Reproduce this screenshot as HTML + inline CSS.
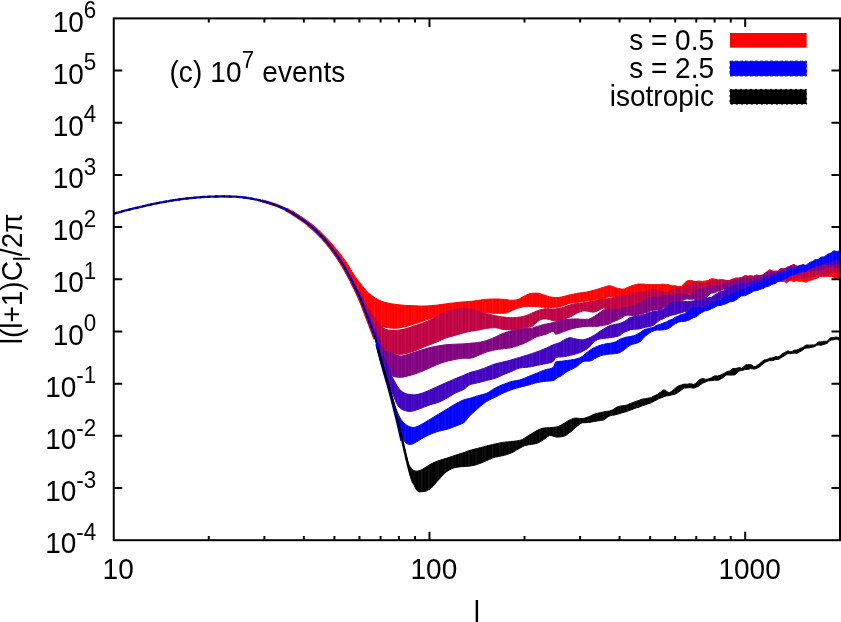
<!DOCTYPE html>
<html><head><meta charset="utf-8"><title>chart</title>
<style>html,body{margin:0;padding:0;background:#fff;}svg{display:block;will-change:transform;}text{font-family:"Liberation Sans",sans-serif;fill:#000;}</style></head>
<body>
<svg width="841" height="622" viewBox="0 0 841 622">
<rect width="841" height="622" fill="#fff"/>
<defs><clipPath id="cp"><rect x="113.75" y="18.4" width="727.25" height="521.8"/></clipPath><clipPath id="bc"><use href="#b0"/><use href="#b1"/><use href="#b2"/><use href="#b3"/><use href="#b4"/><use href="#b5"/></clipPath><pattern id="st1" width="3.37" height="10" patternUnits="userSpaceOnUse"><rect x="0" y="0" width="1.1" height="10" fill="#fff" fill-opacity="0.055"/></pattern><pattern id="st2" width="7.9" height="10" patternUnits="userSpaceOnUse"><rect x="2" y="0" width="1.4" height="10" fill="#fff" fill-opacity="0.05"/></pattern></defs>
<g clip-path="url(#cp)">
<polyline points="262.0,201.0 263.5,201.3 265.0,201.7 266.5,202.2 268.0,202.6 269.5,203.0 271.0,203.5 272.5,204.0 274.0,204.5 275.5,205.0 277.0,205.6 278.5,206.2 280.0,206.8 281.5,207.4 283.0,208.1 284.5,208.8 286.0,209.5 287.5,210.3 289.0,211.1" fill="none" stroke="#ff0000" stroke-width="3.0"/>
<polyline points="286.0,209.5 287.5,210.3 289.0,211.1 290.5,212.0 292.0,212.9 293.5,213.9 295.0,214.8 296.5,215.8 298.0,216.8 299.5,217.8 301.0,218.8 302.5,219.9 304.0,220.9 305.5,222.0 307.0,223.1 308.5,224.3 310.0,225.5 311.5,226.7" fill="none" stroke="#ff0000" stroke-width="3.8"/>
<polyline points="308.0,223.9 309.5,225.1 311.0,226.3 312.5,227.5 314.0,228.8 315.5,230.2 317.0,231.6 318.5,233.1 320.0,234.6 321.5,236.2 323.0,237.8 324.5,239.4 326.0,241.1 327.5,242.9 329.0,244.7 330.5,246.6 332.0,248.6 333.5,250.6 335.0,252.7 336.5,254.8 338.0,256.9 339.5,259.2 341.0,261.6 342.5,264.1 344.0,266.6 345.5,269.2 347.0,271.8 348.5,274.6 350.0,277.4 351.5,280.3 353.0,283.4 354.5,286.5 356.0,289.5 357.5,292.6 359.0,295.8 360.5,299.1 362.0,302.7 363.5,306.6 365.0,310.6 366.5,314.6 368.0,318.5 369.5,322.4 371.0,326.4 372.5,330.3 374.0,334.3 375.5,338.7" fill="none" stroke="#ff0000" stroke-width="4.6"/>
<polygon id="b0" points="292.0,210.9 293.0,211.6 294.0,212.2 295.0,212.8 296.0,213.4 297.0,214.1 298.0,214.7 299.0,215.3 300.0,216.0 301.0,216.6 302.0,217.3 303.0,218.0 304.0,218.7 305.0,219.3 306.0,220.0 307.0,220.7 308.0,221.5 309.0,222.2 310.0,223.0 311.0,223.7 312.0,224.5 313.0,225.3 314.0,226.2 315.0,227.0 316.0,227.9 317.0,228.7 318.0,229.6 319.0,230.6 320.0,231.5 321.0,232.4 322.0,233.4 323.0,234.4 324.0,235.4 325.0,236.4 326.0,237.4 327.0,238.5 328.0,239.5 329.0,240.6 330.0,241.7 331.0,242.9 332.0,244.0 333.0,245.1 334.0,246.3 335.0,247.5 336.0,248.7 337.0,249.9 338.0,251.1 339.0,252.3 340.0,253.6 341.0,255.0 342.0,256.3 343.0,257.7 344.0,259.1 345.0,260.5 346.0,261.9 347.0,263.4 348.0,264.9 349.0,266.5 350.0,268.2 351.0,269.9 352.0,271.6 353.0,273.2 354.0,274.8 355.0,276.3 356.0,277.7 357.0,279.1 358.0,280.4 359.0,281.6 360.0,282.9 361.0,284.2 362.0,285.5 363.0,286.8 364.0,288.0 365.0,289.2 366.0,290.4 367.0,291.4 368.0,292.4 369.0,293.4 370.0,294.3 371.0,295.1 372.0,295.8 373.0,296.5 374.0,297.1 375.0,297.8 376.0,298.4 377.0,299.0 378.0,299.6 379.0,300.2 380.0,300.6 381.0,301.0 382.0,301.4 383.0,301.8 384.0,302.1 385.0,302.4 386.0,302.6 387.0,302.9 388.0,303.1 389.0,303.3 390.0,303.5 391.0,303.7 392.0,303.9 393.0,304.0 394.0,304.2 395.0,304.3 396.0,304.4 397.0,304.6 398.0,304.7 399.0,304.8 400.0,304.9 401.0,305.0 402.0,305.1 403.0,305.2 404.0,305.3 405.0,305.4 406.0,305.4 407.0,305.5 408.0,305.5 409.0,305.6 410.0,305.6 411.0,305.6 412.0,305.7 413.0,305.7 414.0,305.7 415.0,305.8 416.0,305.8 417.0,305.9 418.0,305.9 419.0,306.0 420.0,306.0 421.0,306.0 422.0,306.1 423.0,306.0 424.0,306.0 425.0,306.0 426.0,306.0 427.0,305.9 428.0,305.9 429.0,305.8 430.0,305.7 431.0,305.7 432.0,305.6 433.0,305.5 434.0,305.4 435.0,305.3 436.0,305.2 437.0,305.1 438.0,305.0 439.0,304.8 440.0,304.7 441.0,304.6 442.0,304.4 443.0,304.3 444.0,304.1 445.0,304.0 446.0,303.9 447.0,303.7 448.0,303.6 449.0,303.5 450.0,303.3 451.0,303.2 452.0,303.1 453.0,303.0 454.0,302.9 455.0,302.8 456.0,302.6 457.0,302.5 458.0,302.4 459.0,302.3 460.0,302.2 461.0,302.1 462.0,302.0 463.0,301.9 464.0,301.9 465.0,301.8 466.0,301.7 467.0,301.7 468.0,301.6 469.0,301.5 470.0,301.5 471.5,301.3 473.0,301.1 474.5,300.9 476.0,300.6 477.5,300.4 479.0,300.2 480.5,300.0 482.0,299.8 483.5,299.6 485.0,299.4 486.5,299.3 488.0,299.2 489.5,299.1 491.0,299.1 492.5,299.0 494.0,299.0 495.5,299.0 497.0,299.0 498.5,299.0 500.0,299.1 501.5,299.2 503.0,299.3 504.5,299.4 506.0,299.6 507.5,299.8 509.0,300.1 510.5,300.2 512.0,300.3 513.5,300.2 515.0,300.1 516.5,299.8 518.0,299.5 519.5,298.8 521.0,297.9 522.5,297.0 524.0,296.2 525.5,295.5 527.0,294.7 528.5,294.0 530.0,293.6 531.5,293.5 533.0,293.3 534.5,293.2 536.0,293.1 537.5,293.1 539.0,293.4 540.5,293.8 542.0,294.3 543.5,294.8 545.0,295.2 546.5,295.8 548.0,296.4 549.5,296.8 551.0,297.1 552.5,297.3 554.0,297.5 555.5,297.6 557.0,297.6 558.5,297.5 560.0,297.3 561.5,296.9 563.0,296.6 564.5,296.3 566.0,295.9 567.5,295.5 569.0,295.1 570.5,294.7 572.0,294.4 573.5,294.1 575.0,293.8 576.5,293.5 578.0,293.2 579.5,293.0 581.0,292.8 582.5,292.6 584.0,292.4 585.5,292.2 587.0,292.0 588.5,291.6 590.0,291.2 591.5,290.8 593.0,290.4 594.5,290.0 596.0,289.6 597.5,289.2 599.0,288.8 600.5,288.2 602.0,287.7 603.5,287.3 605.0,286.9 606.5,286.3 608.0,285.9 609.5,285.8 611.0,285.9 612.5,286.3 614.0,287.0 615.5,287.8 617.0,288.2 618.5,288.5 620.0,288.8 621.5,289.1 623.0,289.2 624.5,288.9 626.0,288.3 627.5,287.6 629.0,286.9 630.5,286.3 632.0,285.7 633.5,285.3 635.0,284.8 636.5,284.4 638.0,284.1 639.5,284.0 641.0,284.1 642.5,284.1 644.0,284.1 645.5,284.4 647.0,284.6 648.5,284.6 650.0,284.5 651.5,284.6 653.0,284.7 654.5,284.6 656.0,284.5 657.5,284.6 659.0,284.7 660.5,284.5 662.0,284.2 663.5,284.2 665.0,284.4 666.5,284.4 668.0,284.5 669.5,285.0 671.0,285.6 672.5,285.8 674.0,285.7 675.5,285.8 677.0,286.3 678.5,286.5 680.0,286.5 681.5,286.2 683.0,284.9 684.5,283.1 686.0,281.7 687.5,280.8 689.0,280.5 690.5,280.4 692.0,280.6 693.5,281.2 695.0,281.7 696.5,281.5 698.0,281.1 699.5,281.0 701.0,281.4 702.5,281.6 704.0,281.2 705.5,280.9 707.0,280.8 708.5,280.3 710.0,279.3 711.5,278.7 713.0,278.8 714.5,279.1 716.0,279.3 717.5,279.8 719.0,280.4 720.5,280.5 722.0,280.0 723.5,279.8 725.0,280.3 726.5,280.8 728.0,280.7 729.5,280.4 731.0,280.2 732.5,279.8 734.0,278.8 735.5,278.0 737.0,277.9 738.5,278.1 740.0,277.9 741.5,277.7 743.0,277.9 744.5,277.9 746.0,277.1 747.5,276.5 749.0,276.9 750.5,277.4 752.0,277.3 753.5,276.9 755.0,276.9 756.5,276.8 758.0,276.3 759.5,275.8 761.0,276.2 762.5,277.1 764.0,277.4 765.5,277.3 767.0,277.4 768.5,277.7 770.0,277.3 771.5,276.7 773.0,277.1 774.5,278.0 776.0,278.3 777.5,278.0 779.0,278.1 780.5,278.5 782.0,278.3 783.5,277.9 785.0,278.4 786.5,279.5 788.0,279.8 789.5,279.2 791.0,278.7 792.5,278.5 794.0,277.6 795.5,276.0 797.0,275.4 798.5,275.9 800.0,276.2 801.5,275.6 803.0,275.2 804.5,275.4 806.0,275.2 807.5,274.3 809.0,274.0 810.5,274.6 812.0,274.7 813.5,273.8 815.0,273.2 816.5,273.6 818.0,273.4 819.5,272.4 821.0,271.8 822.5,272.4 824.0,272.9 825.5,272.4 827.0,271.7 828.5,271.7 830.0,271.6 831.5,270.8 833.0,270.4 834.5,271.2 836.0,271.8 837.5,271.1 839.0,270.0 840.5,269.9 842.0,270.0 842.0,276.7 840.5,276.9 839.0,277.2 837.5,278.0 836.0,278.6 834.5,278.0 833.0,276.8 831.5,276.3 830.0,276.5 828.5,276.4 827.0,276.2 825.5,276.5 824.0,276.8 822.5,276.6 821.0,276.2 819.5,276.7 818.0,277.7 816.5,278.4 815.0,278.6 813.5,279.2 812.0,279.9 810.5,280.2 809.0,280.6 807.5,281.4 806.0,282.1 804.5,282.0 803.0,281.4 801.5,281.1 800.0,281.3 798.5,281.2 797.0,280.8 795.5,280.9 794.0,281.4 792.5,281.3 791.0,280.6 789.5,280.4 788.0,281.8 786.5,282.8 785.0,282.0 783.5,281.4 782.0,281.4 780.5,281.5 779.0,281.4 777.5,282.0 776.0,283.1 774.5,283.9 773.0,283.8 771.5,283.8 770.0,284.3 768.5,284.6 767.0,284.3 765.5,283.8 764.0,283.7 762.5,283.6 761.0,283.1 759.5,282.9 758.0,283.3 756.5,283.8 755.0,283.8 753.5,283.7 752.0,283.9 750.5,284.1 749.0,283.8 747.5,283.5 746.0,283.7 744.5,283.9 743.0,283.6 741.5,283.3 740.0,284.1 738.5,285.5 737.0,286.6 735.5,287.2 734.0,287.8 732.5,288.5 731.0,288.7 729.5,288.6 728.0,288.7 726.5,288.7 725.0,288.5 723.5,288.1 722.0,288.1 720.5,288.3 719.0,288.3 717.5,288.0 716.0,287.9 714.5,288.1 713.0,288.1 711.5,288.0 710.0,288.2 708.5,288.7 707.0,289.2 705.5,289.3 704.0,289.5 702.5,289.7 701.0,289.5 699.5,289.3 698.0,289.3 696.5,289.6 695.0,289.7 693.5,289.6 692.0,289.7 690.5,290.2 689.0,290.6 687.5,290.9 686.0,291.3 684.5,291.9 683.0,292.4 681.5,292.7 680.0,293.0 678.5,293.5 677.0,293.7 675.5,293.6 674.0,293.6 672.5,293.9 671.0,294.1 669.5,294.1 668.0,294.0 666.5,293.9 665.0,293.8 663.5,293.4 662.0,293.1 660.5,293.1 659.0,293.1 657.5,292.9 656.0,292.8 654.5,292.8 653.0,292.9 651.5,293.0 650.0,293.0 648.5,293.1 647.0,293.1 645.5,293.0 644.0,292.8 642.5,292.7 641.0,292.9 639.5,293.0 638.0,293.2 636.5,293.5 635.0,293.9 633.5,294.2 632.0,294.7 630.5,295.2 629.0,295.9 627.5,296.3 626.0,296.6 624.5,296.8 623.0,297.1 621.5,297.2 620.0,297.1 618.5,297.1 617.0,297.1 615.5,296.9 614.0,296.7 612.5,296.5 611.0,296.4 609.5,296.5 608.0,296.9 606.5,297.8 605.0,298.6 603.5,299.1 602.0,299.3 600.5,299.5 599.0,299.6 597.5,299.8 596.0,299.8 594.5,300.0 593.0,300.2 591.5,300.4 590.0,300.6 588.5,300.8 587.0,301.0 585.5,301.2 584.0,301.4 582.5,301.6 581.0,301.8 579.5,302.0 578.0,302.2 576.5,302.4 575.0,302.6 573.5,302.8 572.0,303.0 570.5,303.3 569.0,303.6 567.5,304.1 566.0,304.7 564.5,305.2 563.0,305.7 561.5,306.1 560.0,306.6 558.5,306.9 557.0,307.2 555.5,307.3 554.0,307.4 552.5,307.4 551.0,307.5 549.5,307.5 548.0,307.5 546.5,307.4 545.0,307.4 543.5,307.3 542.0,307.2 540.5,307.0 539.0,306.8 537.5,306.7 536.0,306.6 534.5,306.5 533.0,306.5 531.5,306.4 530.0,306.4 528.5,306.3 527.0,306.3 525.5,306.4 524.0,306.6 522.5,306.9 521.0,307.3 519.5,307.7 518.0,308.1 516.5,308.5 515.0,309.1 513.5,309.7 512.0,310.4 510.5,311.2 509.0,312.0 507.5,312.5 506.0,312.9 504.5,313.3 503.0,313.3 501.5,313.3 500.0,313.3 498.5,313.3 497.0,313.3 495.5,313.3 494.0,313.3 492.5,313.3 491.0,313.1 489.5,313.0 488.0,312.8 486.5,312.7 485.0,312.4 483.5,312.1 482.0,311.8 480.5,311.4 479.0,311.1 477.5,310.8 476.0,310.5 474.5,310.2 473.0,309.9 471.5,309.7 470.0,309.7 469.0,309.8 468.0,310.3 467.0,310.9 466.0,311.5 465.0,312.0 464.0,312.4 463.0,312.5 462.0,312.6 461.0,312.7 460.0,312.8 459.0,312.8 458.0,312.9 457.0,313.0 456.0,313.0 455.0,313.1 454.0,313.2 453.0,313.3 452.0,313.4 451.0,313.5 450.0,313.6 449.0,313.7 448.0,313.8 447.0,313.9 446.0,314.1 445.0,314.2 444.0,314.4 443.0,314.6 442.0,314.8 441.0,315.0 440.0,315.3 439.0,315.5 438.0,315.8 437.0,316.1 436.0,316.4 435.0,316.7 434.0,317.1 433.0,317.5 432.0,317.8 431.0,318.2 430.0,318.5 429.0,318.9 428.0,319.3 427.0,319.6 426.0,320.0 425.0,320.4 424.0,320.7 423.0,321.1 422.0,321.4 421.0,321.8 420.0,322.1 419.0,322.4 418.0,322.7 417.0,323.1 416.0,323.4 415.0,323.7 414.0,324.0 413.0,324.3 412.0,324.6 411.0,324.9 410.0,325.3 409.0,325.6 408.0,325.9 407.0,326.2 406.0,326.4 405.0,326.7 404.0,326.9 403.0,327.1 402.0,327.4 401.0,327.6 400.0,327.7 399.0,327.9 398.0,328.0 397.0,328.1 396.0,328.2 395.0,328.2 394.0,328.2 393.0,328.2 392.0,328.1 391.0,328.1 390.0,328.0 389.0,327.9 388.0,327.7 387.0,327.6 386.0,327.4 385.0,327.2 384.0,326.9 383.0,326.7 382.0,326.5 381.0,326.3 380.0,326.2 379.0,325.9 378.0,325.4 377.0,324.6 376.0,323.8 375.0,323.3 374.0,322.7 373.0,322.1 372.0,320.7 371.0,319.0 370.0,317.1 369.0,315.1 368.0,313.1 367.0,311.1 366.0,309.0 365.0,306.8 364.0,304.5 363.0,302.2 362.0,299.9 361.0,297.7 360.0,295.6 359.0,293.7 358.0,291.7 357.0,289.8 356.0,287.9 355.0,286.0 354.0,284.0 353.0,282.0 352.0,280.1 351.0,278.2 350.0,276.3 349.0,274.5 348.0,272.7 347.0,270.9 346.0,269.2 345.0,267.4 344.0,265.8 343.0,264.1 342.0,262.5 341.0,260.9 340.0,259.3 339.0,257.7 338.0,256.3 337.0,254.8 336.0,253.4 335.0,252.0 334.0,250.6 333.0,249.3 332.0,248.0 331.0,246.7 330.0,245.4 329.0,244.2 328.0,242.9 327.0,241.7 326.0,240.6 325.0,239.4 324.0,238.3 323.0,237.2 322.0,236.1 321.0,235.1 320.0,234.1 319.0,233.0 318.0,232.0 317.0,231.1 316.0,230.1 315.0,229.2 314.0,228.3 313.0,227.4 312.0,226.6 311.0,225.7 310.0,224.9 309.0,224.1 308.0,223.4 307.0,222.6 306.0,221.8 305.0,221.1 304.0,220.4 303.0,219.7 302.0,219.0 301.0,218.3 300.0,217.6 299.0,217.0 298.0,216.3 297.0,215.6 296.0,215.0 295.0,214.3 294.0,213.7 293.0,213.0 292.0,212.4" fill="#ff0000" stroke="#ff0000" stroke-width="1.0" stroke-linejoin="round"/>
<polygon id="b1" points="292.0,213.2 293.0,213.8 294.0,214.4 295.0,215.0 296.0,215.7 297.0,216.3 298.0,217.0 299.0,217.7 300.0,218.3 301.0,219.0 302.0,219.7 303.0,220.4 304.0,221.1 305.0,221.8 306.0,222.5 307.0,223.2 308.0,224.0 309.0,224.8 310.0,225.6 311.0,226.4 312.0,227.2 313.0,228.0 314.0,228.9 315.0,229.8 316.0,230.7 317.0,231.6 318.0,232.6 319.0,233.6 320.0,234.6 321.0,235.6 322.0,236.6 323.0,237.7 324.0,238.8 325.0,239.8 326.0,241.0 327.0,242.1 328.0,243.3 329.0,244.5 330.0,245.7 331.0,246.9 332.0,248.2 333.0,249.5 334.0,250.8 335.0,252.1 336.0,253.5 337.0,254.8 338.0,256.2 339.0,257.7 340.0,259.1 341.0,260.7 342.0,262.2 343.0,263.8 344.0,265.3 345.0,266.9 346.0,268.6 347.0,270.2 348.0,271.9 349.0,273.6 350.0,275.3 351.0,277.0 352.0,278.8 353.0,280.6 354.0,282.4 355.0,284.2 356.0,285.9 357.0,287.6 358.0,289.4 359.0,291.1 360.0,292.8 361.0,294.7 362.0,296.6 363.0,298.5 364.0,300.5 365.0,302.4 366.0,304.3 367.0,306.0 368.0,307.7 369.0,309.3 370.0,310.9 371.0,312.5 372.0,313.9 373.0,315.3 374.0,316.6 375.0,318.0 376.0,319.4 377.0,320.9 378.0,322.4 379.0,323.7 380.0,324.8 381.0,325.9 382.0,326.8 383.0,327.6 384.0,328.3 385.0,329.0 386.0,329.4 387.0,329.7 388.0,329.9 389.0,330.0 390.0,330.2 391.0,330.3 392.0,330.4 393.0,330.4 394.0,330.4 395.0,330.4 396.0,330.4 397.0,330.3 398.0,330.2 399.0,330.1 400.0,329.9 401.0,329.7 402.0,329.5 403.0,329.3 404.0,329.1 405.0,328.9 406.0,328.6 407.0,328.3 408.0,328.0 409.0,327.7 410.0,327.4 411.0,327.0 412.0,326.7 413.0,326.3 414.0,326.0 415.0,325.7 416.0,325.3 417.0,325.0 418.0,324.7 419.0,324.3 420.0,324.0 421.0,323.6 422.0,323.3 423.0,322.9 424.0,322.5 425.0,322.2 426.0,321.8 427.0,321.4 428.0,321.0 429.0,320.5 430.0,320.1 431.0,319.6 432.0,319.1 433.0,318.5 434.0,317.9 435.0,317.3 436.0,316.7 437.0,316.2 438.0,315.6 439.0,315.1 440.0,314.6 441.0,314.1 442.0,313.6 443.0,313.2 444.0,312.7 445.0,312.3 446.0,311.9 447.0,311.6 448.0,311.3 449.0,311.0 450.0,310.7 451.0,310.4 452.0,310.1 453.0,309.9 454.0,309.7 455.0,309.5 456.0,309.3 457.0,309.1 458.0,308.9 459.0,308.7 460.0,308.6 461.0,308.4 462.0,308.3 463.0,308.2 464.0,308.2 465.0,308.3 466.0,308.4 467.0,308.5 468.0,308.7 469.0,308.8 470.0,309.0 471.5,309.3 473.0,309.6 474.5,310.0 476.0,310.4 477.5,310.8 479.0,311.2 480.5,311.7 482.0,312.2 483.5,312.7 485.0,313.2 486.5,313.6 488.0,314.0 489.5,314.4 491.0,314.8 492.5,315.1 494.0,315.5 495.5,315.8 497.0,316.0 498.5,316.3 500.0,316.6 501.5,316.8 503.0,317.0 504.5,317.1 506.0,317.3 507.5,317.5 509.0,317.6 510.5,317.7 512.0,317.7 513.5,317.7 515.0,317.6 516.5,317.4 518.0,317.3 519.5,317.1 521.0,316.9 522.5,316.6 524.0,316.2 525.5,315.8 527.0,315.3 528.5,314.7 530.0,314.0 531.5,313.3 533.0,312.6 534.5,311.9 536.0,311.3 537.5,310.7 539.0,310.2 540.5,309.8 542.0,309.4 543.5,309.1 545.0,308.8 546.5,308.7 548.0,308.7 549.5,308.8 551.0,308.9 552.5,309.0 554.0,309.0 555.5,308.9 557.0,308.7 558.5,308.5 560.0,308.2 561.5,307.9 563.0,307.4 564.5,306.9 566.0,306.3 567.5,305.8 569.0,305.3 570.5,304.8 572.0,304.4 573.5,304.0 575.0,303.8 576.5,303.6 578.0,303.4 579.5,303.2 581.0,303.0 582.5,302.9 584.0,302.7 585.5,302.5 587.0,302.3 588.5,302.0 590.0,301.7 591.5,301.4 593.0,301.1 594.5,300.9 596.0,300.6 597.5,300.3 599.0,300.0 600.5,299.8 602.0,299.5 603.5,299.2 605.0,299.0 606.5,298.9 608.0,298.7 609.5,298.3 611.0,298.0 612.5,297.7 614.0,297.4 615.5,297.0 617.0,296.7 618.5,296.7 620.0,296.6 621.5,296.4 623.0,296.1 624.5,296.0 626.0,295.6 627.5,294.9 629.0,294.2 630.5,293.9 632.0,293.5 633.5,293.1 635.0,292.8 636.5,292.7 638.0,292.6 639.5,292.4 641.0,292.2 642.5,292.2 644.0,292.0 645.5,291.5 647.0,290.9 648.5,290.4 650.0,290.0 651.5,289.6 653.0,289.3 654.5,289.5 656.0,289.9 657.5,290.1 659.0,290.2 660.5,290.7 662.0,291.5 663.5,292.2 665.0,292.8 666.5,292.7 668.0,292.3 669.5,291.4 671.0,290.3 672.5,289.5 674.0,289.2 675.5,288.9 677.0,288.5 678.5,288.4 680.0,288.3 681.5,287.8 683.0,286.8 684.5,286.1 686.0,285.6 687.5,285.0 689.0,284.2 690.5,283.6 692.0,283.3 693.5,282.5 695.0,281.7 696.5,281.7 698.0,282.5 699.5,283.3 701.0,283.6 702.5,283.8 704.0,283.9 705.5,283.4 707.0,282.3 708.5,281.4 710.0,281.2 711.5,281.1 713.0,280.6 714.5,280.3 716.0,280.4 717.5,280.4 719.0,279.9 720.5,279.6 722.0,279.9 723.5,280.3 725.0,280.3 726.5,280.3 728.0,280.6 729.5,280.5 731.0,279.8 732.5,279.1 734.0,279.1 735.5,279.4 737.0,279.0 738.5,278.3 740.0,277.9 741.5,277.6 743.0,276.7 744.5,275.7 746.0,275.6 747.5,276.0 749.0,275.9 750.5,275.6 752.0,275.9 753.5,276.1 755.0,275.6 756.5,275.0 758.0,275.2 759.5,275.8 761.0,275.5 762.5,274.7 764.0,274.0 765.5,273.1 767.0,271.7 768.5,270.2 770.0,269.8 771.5,270.5 773.0,271.0 774.5,271.0 776.0,271.1 777.5,271.0 779.0,270.0 780.5,268.8 782.0,268.4 783.5,268.8 785.0,268.6 786.5,267.5 788.0,266.8 789.5,266.7 791.0,266.0 792.5,264.8 794.0,264.4 795.5,265.4 797.0,266.2 798.5,266.4 800.0,266.8 801.5,267.6 803.0,267.9 804.5,267.5 806.0,267.7 807.5,268.9 809.0,269.9 810.5,269.7 812.0,269.3 813.5,269.3 815.0,268.9 816.5,267.7 818.0,267.0 819.5,267.6 821.0,268.2 822.5,267.6 824.0,266.7 825.5,266.5 827.0,266.0 828.5,264.7 830.0,263.8 831.5,264.3 833.0,265.0 834.5,264.5 836.0,263.7 837.5,263.6 839.0,263.5 840.5,262.7 842.0,262.3 842.0,270.8 840.5,270.7 839.0,271.2 837.5,271.9 836.0,272.6 834.5,272.0 833.0,272.1 831.5,272.3 830.0,272.4 828.5,273.4 827.0,274.5 825.5,274.9 824.0,274.7 822.5,274.9 821.0,275.1 819.5,274.8 818.0,274.4 816.5,274.8 815.0,275.7 813.5,276.2 812.0,276.2 810.5,276.7 809.0,277.3 807.5,277.5 806.0,277.3 804.5,277.7 803.0,278.3 801.5,278.4 800.0,277.9 798.5,277.7 797.0,277.8 795.5,277.7 794.0,278.4 792.5,279.3 791.0,279.5 789.5,280.0 788.0,280.6 786.5,280.3 785.0,279.9 783.5,279.9 782.0,279.5 780.5,279.4 779.0,279.7 777.5,279.8 776.0,279.4 774.5,279.1 773.0,279.4 771.5,279.6 770.0,279.6 768.5,279.9 767.0,280.8 765.5,281.4 764.0,281.4 762.5,281.2 761.0,281.4 759.5,281.4 758.0,281.0 756.5,280.7 755.0,281.0 753.5,281.3 752.0,281.2 750.5,281.1 749.0,281.5 747.5,282.0 746.0,282.5 744.5,283.1 743.0,283.7 741.5,284.2 740.0,284.0 738.5,283.6 737.0,283.6 735.5,283.7 734.0,283.6 732.5,283.8 731.0,284.4 729.5,285.1 728.0,285.4 726.5,285.6 725.0,286.0 723.5,286.6 722.0,286.8 720.5,286.9 719.0,287.3 717.5,287.8 716.0,287.9 714.5,287.7 713.0,287.9 711.5,288.3 710.0,288.6 708.5,288.9 707.0,289.4 705.5,290.1 704.0,290.5 702.5,290.6 701.0,290.9 699.5,291.4 698.0,291.7 696.5,292.0 695.0,292.5 693.5,293.1 692.0,293.5 690.5,293.5 689.0,293.8 687.5,294.3 686.0,294.8 684.5,295.0 683.0,295.2 681.5,295.5 680.0,295.6 678.5,295.4 677.0,295.2 675.5,295.3 674.0,295.4 672.5,295.5 671.0,295.7 669.5,296.2 668.0,296.5 666.5,296.6 665.0,296.8 663.5,297.2 662.0,297.5 660.5,297.6 659.0,297.7 657.5,297.8 656.0,297.8 654.5,297.6 653.0,297.4 651.5,297.5 650.0,298.0 648.5,298.7 647.0,299.7 645.5,300.8 644.0,301.9 642.5,302.7 641.0,303.4 639.5,304.2 638.0,305.0 636.5,305.7 635.0,306.1 633.5,306.6 632.0,307.0 630.5,307.2 629.0,307.4 627.5,307.8 626.0,308.2 624.5,308.5 623.0,308.8 621.5,309.2 620.0,309.5 618.5,309.6 617.0,309.6 615.5,309.6 614.0,309.7 612.5,309.8 611.0,309.7 609.5,309.7 608.0,309.4 606.5,308.8 605.0,308.2 603.5,308.0 602.0,308.6 600.5,309.4 599.0,310.2 597.5,310.9 596.0,311.4 594.5,311.9 593.0,312.1 591.5,312.0 590.0,311.7 588.5,311.4 587.0,311.1 585.5,310.9 584.0,310.8 582.5,311.1 581.0,311.6 579.5,312.1 578.0,312.7 576.5,313.4 575.0,314.2 573.5,315.1 572.0,316.0 570.5,316.7 569.0,317.3 567.5,317.9 566.0,318.4 564.5,318.9 563.0,319.3 561.5,319.8 560.0,320.1 558.5,320.5 557.0,320.7 555.5,320.8 554.0,320.7 552.5,320.5 551.0,320.0 549.5,319.5 548.0,319.2 546.5,319.0 545.0,318.9 543.5,318.9 542.0,319.2 540.5,319.7 539.0,320.5 537.5,321.7 536.0,323.0 534.5,324.3 533.0,325.7 531.5,326.8 530.0,327.2 528.5,327.2 527.0,327.4 525.5,327.7 524.0,328.0 522.5,328.4 521.0,328.8 519.5,329.0 518.0,329.2 516.5,329.4 515.0,329.6 513.5,329.7 512.0,329.7 510.5,329.7 509.0,329.7 507.5,329.6 506.0,329.6 504.5,329.5 503.0,329.4 501.5,329.1 500.0,328.7 498.5,328.3 497.0,327.9 495.5,327.7 494.0,327.7 492.5,327.8 491.0,327.9 489.5,328.1 488.0,328.2 486.5,328.4 485.0,328.7 483.5,329.0 482.0,329.3 480.5,329.6 479.0,329.9 477.5,330.2 476.0,330.5 474.5,330.7 473.0,330.9 471.5,331.1 470.0,331.4 469.0,331.6 468.0,331.8 467.0,332.0 466.0,332.3 465.0,332.5 464.0,332.8 463.0,333.0 462.0,333.3 461.0,333.6 460.0,333.9 459.0,334.2 458.0,334.5 457.0,334.8 456.0,335.1 455.0,335.4 454.0,335.7 453.0,336.0 452.0,336.2 451.0,336.5 450.0,336.8 449.0,337.0 448.0,337.3 447.0,337.6 446.0,338.0 445.0,338.3 444.0,338.7 443.0,339.2 442.0,339.6 441.0,340.1 440.0,340.6 439.0,341.0 438.0,341.5 437.0,341.9 436.0,342.3 435.0,342.7 434.0,343.1 433.0,343.5 432.0,343.9 431.0,344.3 430.0,344.7 429.0,345.1 428.0,345.5 427.0,345.8 426.0,346.2 425.0,346.6 424.0,347.0 423.0,347.4 422.0,347.9 421.0,348.3 420.0,348.7 419.0,349.1 418.0,349.5 417.0,349.9 416.0,350.3 415.0,350.7 414.0,351.1 413.0,351.4 412.0,351.8 411.0,352.1 410.0,352.4 409.0,352.8 408.0,353.1 407.0,353.3 406.0,353.6 405.0,353.8 404.0,353.9 403.0,354.1 402.0,354.2 401.0,354.3 400.0,354.3 399.0,354.3 398.0,354.3 397.0,354.2 396.0,354.1 395.0,353.9 394.0,353.6 393.0,353.3 392.0,352.9 391.0,352.5 390.0,352.0 389.0,351.5 388.0,350.9 387.0,350.5 386.0,350.0 385.0,349.6 384.0,349.0 383.0,348.2 382.0,347.2 381.0,345.5 380.0,343.6 379.0,341.4 378.0,338.9 377.0,336.1 376.0,333.4 375.0,331.1 374.0,328.9 373.0,326.7 372.0,324.6 371.0,322.5 370.0,320.2 369.0,317.9 368.0,315.6 367.0,313.3 366.0,310.9 365.0,308.5 364.0,306.0 363.0,303.5 362.0,301.1 361.0,298.7 360.0,296.6 359.0,294.5 358.0,292.4 357.0,290.4 356.0,288.5 355.0,286.5 354.0,284.4 353.0,282.4 352.0,280.4 351.0,278.5 350.0,276.6 349.0,274.7 348.0,272.9 347.0,271.1 346.0,269.4 345.0,267.6 344.0,265.9 343.0,264.3 342.0,262.6 341.0,261.0 340.0,259.4 339.0,257.8 338.0,256.3 337.0,254.9 336.0,253.5 335.0,252.1 334.0,250.8 333.0,249.5 332.0,248.2 331.0,246.9 330.0,245.7 329.0,244.5 328.0,243.3 327.0,242.1 326.0,241.0 325.0,239.8 324.0,238.8 323.0,237.7 322.0,236.6 321.0,235.6 320.0,234.6 319.0,233.6 318.0,232.6 317.0,231.6 316.0,230.7 315.0,229.8 314.0,228.9 313.0,228.0 312.0,227.2 311.0,226.4 310.0,225.6 309.0,224.8 308.0,224.0 307.0,223.2 306.0,222.5 305.0,221.8 304.0,221.1 303.0,220.4 302.0,219.7 301.0,219.0 300.0,218.3 299.0,217.7 298.0,217.0 297.0,216.3 296.0,215.7 295.0,215.0 294.0,214.4 293.0,213.8 292.0,213.2" fill="#bf0040" stroke="#bf0040" stroke-width="1.0" stroke-linejoin="round"/>
<polygon id="b2" points="292.0,213.0 293.0,213.6 294.0,214.3 295.0,214.9 296.0,215.6 297.0,216.2 298.0,216.9 299.0,217.6 300.0,218.2 301.0,218.9 302.0,219.6 303.0,220.3 304.0,221.0 305.0,221.7 306.0,222.4 307.0,223.2 308.0,223.9 309.0,224.7 310.0,225.5 311.0,226.3 312.0,227.1 313.0,228.0 314.0,228.9 315.0,229.8 316.0,230.7 317.0,231.6 318.0,232.6 319.0,233.6 320.0,234.6 321.0,235.6 322.0,236.7 323.0,237.7 324.0,238.8 325.0,239.9 326.0,241.1 327.0,242.2 328.0,243.4 329.0,244.6 330.0,245.8 331.0,247.1 332.0,248.4 333.0,249.7 334.0,251.0 335.0,252.4 336.0,253.8 337.0,255.2 338.0,256.6 339.0,258.1 340.0,259.6 341.0,261.1 342.0,262.7 343.0,264.4 344.0,266.0 345.0,267.7 346.0,269.3 347.0,271.1 348.0,272.8 349.0,274.6 350.0,276.4 351.0,278.2 352.0,280.1 353.0,282.0 354.0,284.0 355.0,285.9 356.0,287.9 357.0,289.8 358.0,291.7 359.0,293.6 360.0,295.6 361.0,297.7 362.0,300.0 363.0,302.3 364.0,304.6 365.0,307.0 366.0,309.3 367.0,311.5 368.0,313.7 369.0,315.9 370.0,318.1 371.0,320.2 372.0,322.3 373.0,324.3 374.0,326.4 375.0,328.5 376.0,330.8 377.0,333.4 378.0,336.0 379.0,338.5 380.0,340.7 381.0,342.8 382.0,344.8 383.0,346.7 384.0,348.4 385.0,350.0 386.0,350.7 387.0,351.2 388.0,351.7 389.0,352.0 390.0,352.4 391.0,352.8 392.0,353.3 393.0,353.8 394.0,354.2 395.0,354.6 396.0,355.0 397.0,355.3 398.0,355.6 399.0,355.8 400.0,356.0 401.0,356.1 402.0,356.0 403.0,355.8 404.0,355.5 405.0,355.3 406.0,355.0 407.0,354.7 408.0,354.4 409.0,354.1 410.0,353.8 411.0,353.4 412.0,353.1 413.0,352.7 414.0,352.4 415.0,352.1 416.0,351.8 417.0,351.4 418.0,351.1 419.0,350.8 420.0,350.5 421.0,350.2 422.0,349.9 423.0,349.6 424.0,349.3 425.0,349.0 426.0,348.7 427.0,348.4 428.0,348.1 429.0,347.8 430.0,347.6 431.0,347.4 432.0,347.1 433.0,346.9 434.0,346.7 435.0,346.5 436.0,346.3 437.0,346.1 438.0,346.0 439.0,345.8 440.0,345.6 441.0,345.5 442.0,345.3 443.0,345.2 444.0,345.0 445.0,344.9 446.0,344.8 447.0,344.7 448.0,344.6 449.0,344.5 450.0,344.5 451.0,344.4 452.0,344.3 453.0,344.3 454.0,344.2 455.0,344.2 456.0,344.2 457.0,344.1 458.0,344.1 459.0,344.0 460.0,344.0 461.0,344.0 462.0,343.9 463.0,343.9 464.0,343.8 465.0,343.8 466.0,343.7 467.0,343.6 468.0,343.5 469.0,343.4 470.0,343.3 471.5,343.1 473.0,343.0 474.5,342.9 476.0,342.7 477.5,342.6 479.0,342.3 480.5,342.1 482.0,341.7 483.5,341.4 485.0,340.9 486.5,340.5 488.0,340.0 489.5,339.5 491.0,338.9 492.5,338.2 494.0,337.6 495.5,336.9 497.0,336.2 498.5,335.5 500.0,334.7 501.5,334.0 503.0,333.4 504.5,332.9 506.0,332.3 507.5,331.9 509.0,331.4 510.5,331.0 512.0,330.7 513.5,330.4 515.0,330.2 516.5,329.9 518.0,329.7 519.5,329.5 521.0,329.3 522.5,329.0 524.0,328.7 525.5,328.5 527.0,328.3 528.5,328.2 530.0,328.6 531.5,328.4 533.0,327.9 534.5,327.3 536.0,326.8 537.5,326.4 539.0,325.9 540.5,325.5 542.0,325.0 543.5,324.6 545.0,324.2 546.5,324.0 548.0,323.7 549.5,323.4 551.0,323.1 552.5,322.7 554.0,322.3 555.5,321.9 557.0,321.4 558.5,320.8 560.0,320.3 561.5,319.9 563.0,319.7 564.5,319.5 566.0,319.4 567.5,319.3 569.0,319.2 570.5,319.1 572.0,319.0 573.5,319.0 575.0,318.9 576.5,318.9 578.0,318.9 579.5,319.1 581.0,319.2 582.5,319.3 584.0,319.3 585.5,319.3 587.0,319.3 588.5,319.3 590.0,318.8 591.5,318.0 593.0,317.1 594.5,316.2 596.0,315.2 597.5,314.2 599.0,313.2 600.5,312.1 602.0,310.8 603.5,309.9 605.0,309.7 606.5,309.4 608.0,309.2 609.5,309.2 611.0,309.3 612.5,309.5 614.0,309.6 615.5,309.6 617.0,309.5 618.5,309.2 620.0,308.6 621.5,308.1 623.0,307.8 624.5,307.5 626.0,307.3 627.5,307.3 629.0,307.4 630.5,307.0 632.0,306.5 633.5,306.0 635.0,305.5 636.5,304.9 638.0,304.2 639.5,303.6 641.0,302.8 642.5,301.8 644.0,300.5 645.5,299.5 647.0,298.6 648.5,297.7 650.0,297.1 651.5,297.1 653.0,297.2 654.5,297.1 656.0,296.9 657.5,297.0 659.0,297.0 660.5,296.5 662.0,295.8 663.5,295.8 665.0,296.0 666.5,295.9 668.0,295.7 669.5,295.8 671.0,296.0 672.5,295.7 674.0,295.0 675.5,294.6 677.0,294.6 678.5,294.2 680.0,293.8 681.5,293.7 683.0,294.0 684.5,294.2 686.0,294.3 687.5,294.6 689.0,294.9 690.5,294.3 692.0,293.1 693.5,292.1 695.0,291.3 696.5,290.1 698.0,289.1 699.5,288.8 701.0,288.9 702.5,288.8 704.0,288.3 705.5,287.7 707.0,287.5 708.5,287.1 710.0,286.5 711.5,286.2 713.0,286.3 714.5,286.3 716.0,286.1 717.5,286.0 719.0,286.1 720.5,285.8 722.0,284.8 723.5,284.1 725.0,283.7 726.5,283.3 728.0,282.6 729.5,282.0 731.0,281.7 732.5,281.5 734.0,280.9 735.5,280.4 737.0,280.3 738.5,280.3 740.0,279.6 741.5,278.7 743.0,278.3 744.5,278.4 746.0,278.3 747.5,278.3 749.0,278.8 750.5,279.3 752.0,278.8 753.5,277.9 755.0,277.6 756.5,277.6 758.0,277.1 759.5,276.4 761.0,276.0 762.5,275.8 764.0,274.6 765.5,272.9 767.0,272.1 768.5,272.3 770.0,272.4 771.5,272.3 773.0,272.7 774.5,273.3 776.0,273.0 777.5,271.7 779.0,270.8 780.5,270.7 782.0,270.2 783.5,269.2 785.0,268.6 786.5,268.4 788.0,267.7 789.5,266.4 791.0,265.7 792.5,266.1 794.0,266.5 795.5,266.2 797.0,266.2 798.5,266.6 800.0,266.3 801.5,265.2 803.0,264.5 804.5,265.1 806.0,265.7 807.5,265.5 809.0,265.3 810.5,265.6 812.0,265.6 813.5,264.5 815.0,263.8 816.5,264.2 818.0,264.9 819.5,264.5 821.0,263.9 822.5,263.9 824.0,263.5 825.5,262.2 827.0,261.1 828.5,261.5 830.0,262.3 831.5,262.2 833.0,261.8 834.5,261.9 836.0,261.9 837.5,260.8 839.0,259.7 840.5,260.0 842.0,261.0 842.0,266.7 840.5,266.4 839.0,266.3 837.5,267.0 836.0,267.5 834.5,267.2 833.0,266.7 831.5,266.8 830.0,267.0 828.5,266.9 827.0,266.9 825.5,267.9 824.0,269.0 822.5,269.5 821.0,269.5 819.5,269.9 818.0,270.4 816.5,270.2 815.0,270.0 813.5,270.4 812.0,271.0 810.5,271.1 809.0,270.8 807.5,271.1 806.0,271.8 804.5,272.1 803.0,272.4 801.5,273.2 800.0,274.2 798.5,274.6 797.0,274.3 795.5,274.3 794.0,274.5 792.5,274.3 791.0,274.0 789.5,274.3 788.0,275.0 786.5,275.3 785.0,275.2 783.5,275.5 782.0,276.1 780.5,276.6 779.0,276.6 777.5,277.0 776.0,277.7 774.5,277.9 773.0,277.5 771.5,277.3 770.0,277.6 768.5,277.8 767.0,277.8 765.5,278.2 764.0,279.1 762.5,279.7 761.0,280.0 759.5,280.7 758.0,280.6 756.5,280.7 755.0,281.4 753.5,281.8 752.0,281.9 750.5,282.5 749.0,283.7 747.5,284.4 746.0,284.2 744.5,284.0 743.0,284.8 741.5,285.3 740.0,286.2 738.5,286.8 737.0,286.9 735.5,286.9 734.0,287.2 732.5,287.7 731.0,287.8 729.5,288.0 728.0,288.5 726.5,289.0 725.0,289.1 723.5,289.2 722.0,289.7 720.5,290.4 719.0,290.9 717.5,291.3 716.0,292.0 714.5,292.7 713.0,293.0 711.5,293.1 710.0,293.7 708.5,295.5 707.0,297.2 705.5,298.3 704.0,299.2 702.5,300.0 701.0,300.4 699.5,300.4 698.0,300.6 696.5,300.9 695.0,299.2 693.5,299.1 692.0,299.2 690.5,299.3 689.0,299.2 687.5,298.9 686.0,299.0 684.5,299.5 683.0,300.0 681.5,300.4 680.0,300.9 678.5,301.6 677.0,302.1 675.5,302.4 674.0,302.8 672.5,303.5 671.0,304.1 669.5,304.7 668.0,305.4 666.5,306.2 665.0,306.9 663.5,307.6 662.0,308.4 660.5,309.4 659.0,310.1 657.5,310.1 656.0,310.0 654.5,310.0 653.0,310.3 651.5,310.6 650.0,311.1 648.5,311.8 647.0,312.3 645.5,312.7 644.0,313.1 642.5,313.6 641.0,314.0 639.5,314.3 638.0,314.6 636.5,315.0 635.0,315.4 633.5,315.6 632.0,315.4 630.5,315.3 629.0,315.2 627.5,315.2 626.0,315.4 624.5,315.9 623.0,317.0 621.5,318.1 620.0,318.8 618.5,319.6 617.0,320.3 615.5,320.9 614.0,321.5 612.5,322.2 611.0,323.1 609.5,323.8 608.0,324.3 606.5,324.7 605.0,325.0 603.5,325.3 602.0,325.6 600.5,325.9 599.0,326.1 597.5,326.3 596.0,326.3 594.5,326.3 593.0,326.4 591.5,326.3 590.0,326.3 588.5,326.3 587.0,326.4 585.5,326.5 584.0,326.6 582.5,326.8 581.0,327.0 579.5,327.2 578.0,327.4 576.5,327.7 575.0,328.0 573.5,328.4 572.0,328.7 570.5,329.2 569.0,329.7 567.5,330.2 566.0,330.8 564.5,331.3 563.0,331.8 561.5,332.4 560.0,333.0 558.5,333.5 557.0,334.0 555.5,334.2 554.0,331.9 552.5,331.5 551.0,331.9 549.5,332.6 548.0,333.3 546.5,334.0 545.0,334.5 543.5,334.9 542.0,335.3 540.5,335.7 539.0,336.1 537.5,336.5 536.0,337.1 534.5,337.8 533.0,338.7 531.5,339.6 530.0,340.4 528.5,341.2 527.0,341.9 525.5,342.6 524.0,343.3 522.5,343.9 521.0,344.5 519.5,345.1 518.0,345.7 516.5,346.2 515.0,346.7 513.5,347.1 512.0,347.5 510.5,347.8 509.0,348.0 507.5,348.2 506.0,348.4 504.5,348.6 503.0,348.8 501.5,349.0 500.0,349.1 498.5,349.3 497.0,349.6 495.5,349.8 494.0,350.1 492.5,350.4 491.0,350.8 489.5,351.2 488.0,351.6 486.5,352.1 485.0,352.6 483.5,353.3 482.0,353.9 480.5,354.5 479.0,355.1 477.5,355.7 476.0,356.4 474.5,357.1 473.0,357.6 471.5,358.1 470.0,358.2 469.0,358.2 468.0,358.2 467.0,358.2 466.0,358.2 465.0,358.2 464.0,358.2 463.0,358.2 462.0,358.3 461.0,358.4 460.0,358.6 459.0,358.7 458.0,358.9 457.0,359.1 456.0,359.3 455.0,359.5 454.0,359.7 453.0,359.9 452.0,360.1 451.0,360.3 450.0,360.5 449.0,360.7 448.0,361.0 447.0,361.3 446.0,361.5 445.0,361.8 444.0,362.1 443.0,362.4 442.0,362.7 441.0,363.1 440.0,363.4 439.0,363.8 438.0,364.2 437.0,364.6 436.0,365.0 435.0,365.5 434.0,365.9 433.0,366.4 432.0,366.8 431.0,367.3 430.0,367.7 429.0,368.2 428.0,368.6 427.0,369.1 426.0,369.5 425.0,370.0 424.0,370.4 423.0,370.9 422.0,371.3 421.0,371.7 420.0,372.0 419.0,372.4 418.0,372.8 417.0,373.1 416.0,373.5 415.0,373.8 414.0,374.2 413.0,374.5 412.0,374.8 411.0,375.1 410.0,375.4 409.0,375.7 408.0,375.9 407.0,376.2 406.0,376.4 405.0,376.7 404.0,376.9 403.0,377.0 402.0,377.2 401.0,377.2 400.0,377.3 399.0,377.3 398.0,377.2 397.0,377.1 396.0,377.0 395.0,376.8 394.0,376.5 393.0,376.1 392.0,375.5 391.0,374.8 390.0,373.8 389.0,372.7 388.0,371.2 387.0,369.3 386.0,367.3 385.0,365.1 384.0,362.7 383.0,360.2 382.0,357.5 381.0,354.7 380.0,351.7 379.0,348.5 378.0,345.0 377.0,341.4 376.0,338.0 375.0,335.1 374.0,332.4 373.0,329.9 372.0,327.5 371.0,325.0 370.0,322.5 369.0,319.9 368.0,317.4 367.0,314.9 366.0,312.3 365.0,309.7 364.0,307.1 363.0,304.5 362.0,301.9 361.0,299.5 360.0,297.2 359.0,295.1 358.0,293.0 357.0,290.9 356.0,288.9 355.0,286.9 354.0,284.8 353.0,282.8 352.0,280.7 351.0,278.7 350.0,276.8 349.0,274.9 348.0,273.1 347.0,271.3 346.0,269.5 345.0,267.8 344.0,266.1 343.0,264.4 342.0,262.7 341.0,261.1 340.0,259.6 339.0,258.1 338.0,256.6 337.0,255.2 336.0,253.8 335.0,252.4 334.0,251.0 333.0,249.7 332.0,248.4 331.0,247.1 330.0,245.8 329.0,244.6 328.0,243.4 327.0,242.2 326.0,241.1 325.0,239.9 324.0,238.8 323.0,237.7 322.0,236.7 321.0,235.6 320.0,234.6 319.0,233.6 318.0,232.6 317.0,231.6 316.0,230.7 315.0,229.8 314.0,228.9 313.0,228.0 312.0,227.1 311.0,226.3 310.0,225.5 309.0,224.7 308.0,223.9 307.0,223.2 306.0,222.4 305.0,221.7 304.0,221.0 303.0,220.3 302.0,219.6 301.0,218.9 300.0,218.2 299.0,217.6 298.0,216.9 297.0,216.2 296.0,215.6 295.0,214.9 294.0,214.3 293.0,213.6 292.0,213.0" fill="#800080" stroke="#800080" stroke-width="1.0" stroke-linejoin="round"/>
<polygon id="b3" points="292.0,213.2 293.0,213.9 294.0,214.5 295.0,215.1 296.0,215.8 297.0,216.4 298.0,217.1 299.0,217.8 300.0,218.5 301.0,219.1 302.0,219.8 303.0,220.5 304.0,221.2 305.0,221.9 306.0,222.7 307.0,223.4 308.0,224.2 309.0,224.9 310.0,225.7 311.0,226.5 312.0,227.4 313.0,228.2 314.0,229.1 315.0,230.0 316.0,230.9 317.0,231.9 318.0,232.9 319.0,233.9 320.0,234.9 321.0,235.9 322.0,237.0 323.0,238.0 324.0,239.1 325.0,240.2 326.0,241.4 327.0,242.5 328.0,243.7 329.0,244.9 330.0,246.2 331.0,247.5 332.0,248.8 333.0,250.1 334.0,251.4 335.0,252.8 336.0,254.2 337.0,255.6 338.0,257.0 339.0,258.5 340.0,260.1 341.0,261.7 342.0,263.3 343.0,264.9 344.0,266.6 345.0,268.3 346.0,270.0 347.0,271.7 348.0,273.5 349.0,275.3 350.0,277.2 351.0,279.1 352.0,281.0 353.0,283.0 354.0,285.0 355.0,287.0 356.0,289.0 357.0,291.0 358.0,293.0 359.0,295.0 360.0,297.1 361.0,299.3 362.0,301.6 363.0,304.1 364.0,306.6 365.0,309.1 366.0,311.5 367.0,314.0 368.0,316.3 369.0,318.7 370.0,321.1 371.0,323.5 372.0,325.8 373.0,328.1 374.0,330.4 375.0,332.9 376.0,335.5 377.0,338.6 378.0,341.9 379.0,344.9 380.0,347.7 381.0,350.4 382.0,352.9 383.0,355.3 384.0,357.6 385.0,359.7 386.0,361.8 387.0,363.7 388.0,365.6 389.0,368.6 390.0,371.3 391.0,373.9 392.0,376.3 393.0,378.3 394.0,380.2 395.0,382.1 396.0,383.9 397.0,385.6 398.0,387.1 399.0,388.5 400.0,389.8 401.0,390.8 402.0,391.6 403.0,392.3 404.0,392.8 405.0,393.3 406.0,393.7 407.0,394.0 408.0,394.2 409.0,394.4 410.0,394.5 411.0,394.7 412.0,394.7 413.0,394.8 414.0,394.9 415.0,394.8 416.0,394.7 417.0,394.5 418.0,394.3 419.0,394.0 420.0,393.8 421.0,393.5 422.0,393.2 423.0,392.9 424.0,392.5 425.0,392.1 426.0,391.7 427.0,391.3 428.0,390.9 429.0,390.4 430.0,390.0 431.0,389.5 432.0,389.1 433.0,388.6 434.0,388.2 435.0,387.7 436.0,387.2 437.0,386.8 438.0,386.3 439.0,385.8 440.0,385.4 441.0,385.0 442.0,384.5 443.0,384.1 444.0,383.6 445.0,383.2 446.0,382.8 447.0,382.3 448.0,381.9 449.0,381.4 450.0,381.0 451.0,380.6 452.0,380.1 453.0,379.7 454.0,379.2 455.0,378.8 456.0,378.4 457.0,378.0 458.0,377.6 459.0,377.2 460.0,376.8 461.0,376.4 462.0,376.0 463.0,375.6 464.0,375.2 465.0,374.8 466.0,374.3 467.0,373.8 468.0,373.4 469.0,373.0 470.0,372.6 471.5,372.1 473.0,371.7 474.5,371.3 476.0,370.9 477.5,370.5 479.0,370.1 480.5,369.6 482.0,369.0 483.5,368.5 485.0,367.9 486.5,367.3 488.0,366.7 489.5,366.1 491.0,365.5 492.5,364.8 494.0,364.3 495.5,363.8 497.0,363.4 498.5,363.0 500.0,362.7 501.5,362.4 503.0,362.0 504.5,361.6 506.0,361.3 507.5,360.9 509.0,360.5 510.5,360.1 512.0,359.7 513.5,359.2 515.0,358.8 516.5,358.3 518.0,357.9 519.5,357.4 521.0,357.0 522.5,356.5 524.0,356.1 525.5,355.6 527.0,355.2 528.5,354.7 530.0,354.2 531.5,353.7 533.0,353.2 534.5,352.7 536.0,352.2 537.5,351.6 539.0,351.1 540.5,350.5 542.0,349.9 543.5,349.3 545.0,348.6 546.5,348.0 548.0,347.3 549.5,346.5 551.0,345.8 552.5,345.1 554.0,344.5 555.5,344.0 557.0,343.6 558.5,343.1 560.0,342.5 561.5,341.6 563.0,340.6 564.5,339.6 566.0,339.0 567.5,338.3 569.0,337.8 570.5,337.7 572.0,338.0 573.5,338.4 575.0,338.8 576.5,339.1 578.0,339.4 579.5,339.6 581.0,339.8 582.5,339.8 584.0,339.7 585.5,339.2 587.0,338.7 588.5,338.2 590.0,337.5 591.5,336.7 593.0,335.9 594.5,335.0 596.0,334.1 597.5,333.1 599.0,331.9 600.5,330.9 602.0,330.1 603.5,329.1 605.0,328.3 606.5,327.4 608.0,326.6 609.5,325.8 611.0,325.3 612.5,325.0 614.0,324.7 615.5,324.4 617.0,324.1 618.5,323.7 620.0,323.4 621.5,322.8 623.0,322.1 624.5,321.4 626.0,320.5 627.5,319.2 629.0,318.2 630.5,317.5 632.0,317.1 633.5,316.5 635.0,316.0 636.5,315.7 638.0,315.6 639.5,315.4 641.0,315.0 642.5,314.7 644.0,314.5 645.5,314.0 647.0,313.3 648.5,312.8 650.0,312.5 651.5,312.0 653.0,311.3 654.5,311.0 656.0,311.3 657.5,311.2 659.0,310.5 660.5,310.0 662.0,309.5 663.5,308.8 665.0,307.7 666.5,306.6 668.0,305.6 669.5,304.4 671.0,303.2 672.5,302.4 674.0,302.1 675.5,302.0 677.0,301.8 678.5,301.6 680.0,301.7 681.5,301.6 683.0,301.2 684.5,301.2 686.0,301.6 687.5,301.7 689.0,301.6 690.5,301.3 692.0,301.1 693.5,300.9 695.0,300.6 696.5,300.6 698.0,300.9 699.5,301.0 701.0,300.4 702.5,299.6 704.0,299.0 705.5,298.6 707.0,298.1 708.5,297.7 710.0,297.5 711.5,297.2 713.0,296.3 714.5,295.1 716.0,294.2 717.5,293.3 719.0,292.2 720.5,291.3 722.0,291.0 723.5,290.7 725.0,289.6 726.5,288.4 728.0,287.8 729.5,287.5 731.0,286.7 732.5,285.7 734.0,285.5 735.5,285.4 737.0,284.7 738.5,283.8 740.0,283.6 741.5,283.7 743.0,283.5 744.5,283.2 746.0,283.4 747.5,283.6 749.0,282.9 750.5,281.7 752.0,281.1 753.5,281.0 755.0,280.6 756.5,279.9 758.0,279.8 759.5,279.9 761.0,279.2 762.5,277.8 764.0,277.0 765.5,276.8 767.0,276.4 768.5,275.7 770.0,275.3 771.5,275.5 773.0,275.0 774.5,273.8 776.0,272.9 777.5,272.7 779.0,272.5 780.5,271.7 782.0,271.2 783.5,271.3 785.0,270.7 786.5,269.3 788.0,268.3 789.5,268.1 791.0,268.1 792.5,267.6 794.0,267.4 795.5,267.8 797.0,267.6 798.5,266.3 800.0,265.3 801.5,265.4 803.0,265.7 804.5,265.5 806.0,265.3 807.5,265.6 809.0,265.5 810.5,264.3 812.0,263.0 813.5,262.8 815.0,263.0 816.5,262.5 818.0,261.9 819.5,262.0 821.0,261.9 822.5,260.7 824.0,259.4 825.5,259.5 827.0,260.3 828.5,260.3 830.0,259.9 831.5,260.1 833.0,260.2 834.5,259.0 836.0,257.4 837.5,257.2 839.0,257.9 840.5,257.9 842.0,257.7 842.0,262.4 840.5,262.7 839.0,263.2 837.5,263.3 836.0,263.6 834.5,264.5 833.0,265.2 831.5,264.8 830.0,264.3 828.5,264.3 827.0,264.4 825.5,264.1 824.0,264.3 822.5,264.7 821.0,265.5 819.5,265.7 818.0,265.8 816.5,266.4 815.0,267.2 813.5,267.5 812.0,267.6 810.5,268.2 809.0,268.8 807.5,268.5 806.0,267.9 804.5,267.9 803.0,268.3 801.5,268.5 800.0,268.7 798.5,269.6 797.0,270.8 795.5,271.6 794.0,271.9 792.5,272.5 791.0,273.3 789.5,273.6 788.0,273.6 786.5,274.0 785.0,274.7 783.5,275.0 782.0,274.9 780.5,275.3 779.0,276.2 777.5,277.3 776.0,278.1 774.5,279.3 773.0,280.7 771.5,281.4 770.0,281.6 768.5,282.0 767.0,282.9 765.5,283.6 764.0,284.2 762.5,285.0 761.0,286.2 759.5,287.3 758.0,287.9 756.5,288.6 755.0,289.7 753.5,290.5 752.0,290.9 750.5,291.3 749.0,291.8 747.5,292.1 746.0,291.8 744.5,291.6 743.0,292.0 741.5,292.4 740.0,292.7 738.5,293.1 737.0,293.9 735.5,294.6 734.0,294.9 732.5,295.1 731.0,295.8 729.5,296.4 728.0,296.8 726.5,297.1 725.0,297.7 723.5,298.2 722.0,298.5 720.5,298.7 719.0,299.4 717.5,300.4 716.0,301.2 714.5,301.9 713.0,302.9 711.5,303.9 710.0,304.4 708.5,304.7 707.0,305.2 705.5,305.9 704.0,306.3 702.5,306.5 701.0,306.9 699.5,307.4 698.0,307.6 696.5,307.7 695.0,308.2 693.5,309.0 692.0,309.6 690.5,309.9 689.0,310.5 687.5,311.0 686.0,311.4 684.5,311.7 683.0,312.1 681.5,312.7 680.0,313.1 678.5,313.4 677.0,313.9 675.5,314.5 674.0,314.8 672.5,315.0 671.0,315.4 669.5,316.0 668.0,316.6 666.5,317.0 665.0,317.7 663.5,318.5 662.0,319.2 660.5,319.8 659.0,320.6 657.5,321.8 656.0,323.3 654.5,324.5 653.0,325.3 651.5,326.0 650.0,326.5 648.5,326.8 647.0,326.9 645.5,327.2 644.0,327.6 642.5,328.0 641.0,328.4 639.5,328.8 638.0,329.1 636.5,329.2 635.0,329.2 633.5,329.3 632.0,329.4 630.5,329.7 629.0,330.3 627.5,331.0 626.0,331.6 624.5,332.2 623.0,332.9 621.5,334.1 620.0,335.4 618.5,336.0 617.0,336.4 615.5,336.7 614.0,337.1 612.5,337.3 611.0,337.5 609.5,337.7 608.0,338.0 606.5,338.1 605.0,338.2 603.5,338.4 602.0,338.6 600.5,338.8 599.0,339.1 597.5,339.6 596.0,340.4 594.5,341.6 593.0,342.9 591.5,344.4 590.0,346.3 588.5,347.8 587.0,348.9 585.5,349.8 584.0,350.6 582.5,351.4 581.0,352.1 579.5,352.7 578.0,353.2 576.5,353.7 575.0,354.1 573.5,354.5 572.0,354.9 570.5,355.3 569.0,355.6 567.5,356.0 566.0,356.3 564.5,356.5 563.0,356.7 561.5,356.9 560.0,357.0 558.5,357.0 557.0,357.2 555.5,357.4 554.0,360.4 552.5,361.9 551.0,362.5 549.5,362.9 548.0,363.2 546.5,363.5 545.0,363.8 543.5,364.1 542.0,364.4 540.5,364.7 539.0,365.0 537.5,365.3 536.0,365.6 534.5,365.9 533.0,366.3 531.5,366.6 530.0,366.9 528.5,367.1 527.0,367.3 525.5,367.4 524.0,367.5 522.5,367.6 521.0,367.8 519.5,368.1 518.0,368.5 516.5,369.1 515.0,369.8 513.5,370.5 512.0,371.2 510.5,371.8 509.0,372.4 507.5,373.0 506.0,373.6 504.5,374.2 503.0,374.8 501.5,375.5 500.0,376.2 498.5,376.9 497.0,377.6 495.5,378.2 494.0,378.6 492.5,379.1 491.0,379.4 489.5,379.8 488.0,380.1 486.5,380.5 485.0,380.9 483.5,381.3 482.0,381.7 480.5,382.1 479.0,382.5 477.5,382.8 476.0,383.2 474.5,383.5 473.0,383.8 471.5,384.2 470.0,384.7 469.0,385.2 468.0,385.9 467.0,386.7 466.0,387.6 465.0,388.5 464.0,389.2 463.0,389.7 462.0,390.2 461.0,390.7 460.0,391.1 459.0,391.5 458.0,391.9 457.0,392.3 456.0,392.7 455.0,393.2 454.0,393.8 453.0,394.4 452.0,395.0 451.0,395.6 450.0,396.3 449.0,396.9 448.0,397.5 447.0,398.1 446.0,398.6 445.0,399.2 444.0,399.7 443.0,400.2 442.0,400.7 441.0,401.2 440.0,401.7 439.0,402.1 438.0,402.5 437.0,402.8 436.0,403.1 435.0,403.4 434.0,403.6 433.0,403.9 432.0,404.2 431.0,404.5 430.0,404.8 429.0,405.2 428.0,405.6 427.0,405.9 426.0,406.3 425.0,406.7 424.0,407.1 423.0,407.5 422.0,407.9 421.0,408.2 420.0,408.6 419.0,409.0 418.0,409.4 417.0,409.7 416.0,410.1 415.0,410.4 414.0,410.7 413.0,410.9 412.0,411.2 411.0,411.3 410.0,411.4 409.0,411.4 408.0,411.3 407.0,411.1 406.0,410.8 405.0,410.5 404.0,410.2 403.0,409.8 402.0,409.3 401.0,408.7 400.0,407.9 399.0,407.0 398.0,405.8 397.0,404.1 396.0,402.0 395.0,399.6 394.0,397.1 393.0,394.5 392.0,391.8 391.0,389.0 390.0,386.1 389.0,383.2 388.0,380.3 387.0,377.3 386.0,374.3 385.0,371.3 384.0,368.1 383.0,364.9 382.0,361.5 381.0,358.1 380.0,354.5 379.0,350.9 378.0,347.1 377.0,343.1 376.0,339.4 375.0,336.3 374.0,333.5 373.0,330.8 372.0,328.3 371.0,325.7 370.0,323.1 369.0,320.5 368.0,317.9 367.0,315.3 366.0,312.7 365.0,310.1 364.0,307.4 363.0,304.7 362.0,302.1 361.0,299.7 360.0,297.4 359.0,295.2 358.0,293.1 357.0,291.1 356.0,289.0 355.0,287.0 354.0,285.0 353.0,283.0 352.0,281.0 351.0,279.1 350.0,277.2 349.0,275.3 348.0,273.5 347.0,271.7 346.0,270.0 345.0,268.3 344.0,266.6 343.0,264.9 342.0,263.3 341.0,261.7 340.0,260.1 339.0,258.5 338.0,257.0 337.0,255.6 336.0,254.2 335.0,252.8 334.0,251.4 333.0,250.1 332.0,248.8 331.0,247.5 330.0,246.2 329.0,244.9 328.0,243.7 327.0,242.5 326.0,241.4 325.0,240.2 324.0,239.1 323.0,238.0 322.0,237.0 321.0,235.9 320.0,234.9 319.0,233.9 318.0,232.9 317.0,231.9 316.0,230.9 315.0,230.0 314.0,229.1 313.0,228.2 312.0,227.4 311.0,226.5 310.0,225.7 309.0,224.9 308.0,224.2 307.0,223.4 306.0,222.7 305.0,221.9 304.0,221.2 303.0,220.5 302.0,219.8 301.0,219.1 300.0,218.5 299.0,217.8 298.0,217.1 297.0,216.4 296.0,215.8 295.0,215.1 294.0,214.5 293.0,213.9 292.0,213.2" fill="#4000bf" stroke="#4000bf" stroke-width="1.0" stroke-linejoin="round"/>
<polygon id="b4" points="292.0,213.4 293.0,214.0 294.0,214.7 295.0,215.3 296.0,216.0 297.0,216.6 298.0,217.3 299.0,218.0 300.0,218.6 301.0,219.3 302.0,220.0 303.0,220.7 304.0,221.4 305.0,222.1 306.0,222.9 307.0,223.6 308.0,224.4 309.0,225.1 310.0,225.9 311.0,226.7 312.0,227.6 313.0,228.4 314.0,229.3 315.0,230.2 316.0,231.2 317.0,232.1 318.0,233.1 319.0,234.1 320.0,235.1 321.0,236.1 322.0,237.2 323.0,238.3 324.0,239.4 325.0,240.5 326.0,241.6 327.0,242.8 328.0,244.0 329.0,245.2 330.0,246.5 331.0,247.8 332.0,249.1 333.0,250.4 334.0,251.8 335.0,253.1 336.0,254.5 337.0,256.0 338.0,257.4 339.0,258.9 340.0,260.5 341.0,262.1 342.0,263.7 343.0,265.4 344.0,267.1 345.0,268.8 346.0,270.5 347.0,272.3 348.0,274.1 349.0,276.0 350.0,277.8 351.0,279.8 352.0,281.8 353.0,283.8 354.0,285.8 355.0,287.9 356.0,290.0 357.0,292.0 358.0,294.1 359.0,296.2 360.0,298.3 361.0,300.6 362.0,303.1 363.0,305.6 364.0,308.3 365.0,311.0 366.0,313.6 367.0,316.2 368.0,318.8 369.0,321.4 370.0,324.0 371.0,326.6 372.0,329.2 373.0,331.8 374.0,334.4 375.0,337.2 376.0,340.4 377.0,344.0 378.0,348.1 379.0,351.9 380.0,355.6 381.0,359.2 382.0,362.7 383.0,366.1 384.0,369.5 385.0,372.8 386.0,376.0 387.0,379.2 388.0,382.4 389.0,385.7 390.0,389.0 391.0,392.3 392.0,395.6 393.0,399.0 394.0,402.3 395.0,405.6 396.0,408.6 397.0,411.3 398.0,413.7 399.0,415.9 400.0,417.8 401.0,419.5 402.0,420.9 403.0,422.0 404.0,423.0 405.0,423.9 406.0,424.7 407.0,425.5 408.0,426.1 409.0,426.5 410.0,426.9 411.0,427.1 412.0,427.3 413.0,427.4 414.0,427.4 415.0,427.3 416.0,427.0 417.0,426.6 418.0,426.2 419.0,425.7 420.0,425.2 421.0,424.6 422.0,424.1 423.0,423.6 424.0,423.0 425.0,422.4 426.0,421.8 427.0,421.2 428.0,420.5 429.0,419.9 430.0,419.3 431.0,418.7 432.0,418.1 433.0,417.5 434.0,416.9 435.0,416.3 436.0,415.7 437.0,415.1 438.0,414.5 439.0,413.9 440.0,413.3 441.0,412.7 442.0,412.1 443.0,411.5 444.0,410.9 445.0,410.3 446.0,409.7 447.0,409.1 448.0,408.5 449.0,407.9 450.0,407.3 451.0,406.6 452.0,406.0 453.0,405.4 454.0,404.8 455.0,404.3 456.0,403.7 457.0,403.2 458.0,402.6 459.0,402.1 460.0,401.5 461.0,401.0 462.0,400.6 463.0,400.2 464.0,399.8 465.0,399.5 466.0,399.2 467.0,399.0 468.0,398.7 469.0,398.5 470.0,398.2 471.5,397.8 473.0,397.3 474.5,396.9 476.0,396.4 477.5,395.9 479.0,395.5 480.5,395.1 482.0,394.7 483.5,394.3 485.0,393.8 486.5,393.3 488.0,392.6 489.5,391.7 491.0,390.7 492.5,389.7 494.0,388.8 495.5,387.9 497.0,387.2 498.5,386.5 500.0,385.8 501.5,385.1 503.0,384.5 504.5,383.9 506.0,383.3 507.5,382.8 509.0,382.3 510.5,381.8 512.0,381.4 513.5,381.1 515.0,380.8 516.5,380.6 518.0,380.3 519.5,380.0 521.0,379.6 522.5,379.0 524.0,378.4 525.5,377.8 527.0,377.1 528.5,376.5 530.0,375.9 531.5,375.3 533.0,374.7 534.5,374.1 536.0,373.5 537.5,372.9 539.0,372.2 540.5,371.6 542.0,371.0 543.5,370.4 545.0,369.9 546.5,369.4 548.0,369.1 549.5,368.9 551.0,368.5 552.5,367.9 554.0,366.2 555.5,362.1 557.0,361.7 558.5,361.5 560.0,361.3 561.5,361.2 563.0,361.1 564.5,360.8 566.0,360.6 567.5,360.4 569.0,360.2 570.5,360.0 572.0,359.7 573.5,359.5 575.0,359.2 576.5,358.8 578.0,358.4 579.5,358.0 581.0,357.3 582.5,356.2 584.0,355.0 585.5,353.8 587.0,352.5 588.5,351.3 590.0,350.2 591.5,349.2 593.0,348.3 594.5,347.6 596.0,346.9 597.5,346.3 599.0,345.7 600.5,345.2 602.0,344.7 603.5,344.4 605.0,344.1 606.5,343.7 608.0,343.4 609.5,343.3 611.0,343.1 612.5,342.8 614.0,342.3 615.5,341.9 617.0,341.1 618.5,340.1 620.0,339.2 621.5,338.6 623.0,338.2 624.5,337.7 626.0,337.2 627.5,336.9 629.0,336.8 630.5,336.5 632.0,336.1 633.5,335.8 635.0,335.4 636.5,334.7 638.0,333.8 639.5,332.9 641.0,332.0 642.5,330.8 644.0,329.8 645.5,329.2 647.0,328.9 648.5,328.6 650.0,328.1 651.5,327.8 653.0,327.5 654.5,326.7 656.0,325.8 657.5,325.1 659.0,324.7 660.5,324.2 662.0,323.5 663.5,322.9 665.0,322.5 666.5,321.9 668.0,321.0 669.5,320.2 671.0,319.8 672.5,319.1 674.0,318.1 675.5,317.2 677.0,316.7 678.5,316.0 680.0,315.1 681.5,314.5 683.0,314.2 684.5,313.8 686.0,312.8 687.5,311.3 689.0,310.2 690.5,309.1 692.0,308.0 693.5,307.2 695.0,307.4 696.5,307.8 698.0,307.7 699.5,307.5 701.0,307.6 702.5,307.5 704.0,306.8 705.5,306.1 707.0,305.7 708.5,305.3 710.0,304.4 711.5,303.4 713.0,302.6 714.5,302.0 716.0,301.0 717.5,300.1 719.0,299.9 720.5,299.7 722.0,298.8 723.5,297.6 725.0,296.8 726.5,296.4 728.0,295.7 729.5,294.9 731.0,294.4 732.5,294.0 734.0,293.2 735.5,292.2 737.0,291.6 738.5,291.2 740.0,290.4 741.5,289.6 743.0,289.4 744.5,289.4 746.0,288.7 747.5,287.5 749.0,286.6 750.5,286.0 752.0,284.9 753.5,283.6 755.0,283.4 756.5,283.8 758.0,283.6 759.5,282.6 761.0,281.8 762.5,281.5 764.0,280.8 765.5,279.6 767.0,279.0 768.5,279.0 770.0,278.4 771.5,276.9 773.0,275.7 774.5,275.4 776.0,275.0 777.5,274.4 779.0,274.3 780.5,274.5 782.0,274.1 783.5,272.6 785.0,271.4 786.5,271.1 788.0,270.8 789.5,270.0 791.0,269.6 792.5,270.1 794.0,270.2 795.5,269.1 797.0,267.0 798.5,266.0 800.0,265.8 801.5,265.3 803.0,265.0 804.5,265.4 806.0,265.4 807.5,264.2 809.0,262.7 810.5,262.1 812.0,261.8 813.5,260.8 815.0,259.7 816.5,259.6 818.0,259.6 819.5,258.6 821.0,257.3 822.5,256.9 824.0,257.0 825.5,256.1 827.0,254.5 828.5,253.8 830.0,253.6 831.5,252.6 833.0,251.2 834.5,250.8 836.0,251.4 837.5,251.4 839.0,251.0 840.5,251.3 842.0,252.2 842.0,259.7 840.5,258.8 839.0,258.7 837.5,258.4 836.0,258.8 834.5,259.8 833.0,261.0 831.5,261.1 830.0,262.2 828.5,262.3 827.0,262.4 825.5,263.0 824.0,263.7 822.5,263.8 821.0,263.9 819.5,264.7 818.0,265.4 816.5,265.5 815.0,265.6 813.5,266.5 812.0,267.7 810.5,268.4 809.0,269.2 807.5,270.4 806.0,271.4 804.5,271.5 803.0,271.4 801.5,271.7 800.0,272.3 798.5,272.6 797.0,272.8 795.5,273.7 794.0,274.7 792.5,275.2 791.0,275.5 789.5,276.3 788.0,277.5 786.5,278.3 785.0,278.8 783.5,279.6 782.0,280.5 780.5,280.8 779.0,280.8 777.5,281.4 776.0,282.5 774.5,283.3 773.0,283.9 771.5,284.7 770.0,285.7 768.5,286.3 767.0,286.5 765.5,287.1 764.0,288.0 762.5,288.7 761.0,289.0 759.5,289.5 758.0,290.2 756.5,290.6 755.0,290.7 753.5,291.2 752.0,292.1 750.5,293.1 749.0,293.7 747.5,294.4 746.0,295.3 744.5,295.8 743.0,295.7 741.5,295.9 740.0,296.7 738.5,298.0 737.0,299.3 735.5,300.2 734.0,301.0 732.5,301.5 731.0,301.6 729.5,301.9 728.0,302.7 726.5,303.6 725.0,304.0 723.5,304.4 722.0,305.0 720.5,305.4 719.0,305.5 717.5,305.7 716.0,306.4 714.5,307.4 713.0,308.0 711.5,308.6 710.0,309.4 708.5,310.1 707.0,310.4 705.5,310.7 704.0,311.3 702.5,312.2 701.0,313.0 699.5,314.0 698.0,315.3 696.5,316.6 695.0,317.3 693.5,317.7 692.0,318.3 690.5,319.3 689.0,320.0 687.5,320.5 686.0,321.0 684.5,321.4 683.0,321.6 681.5,321.5 680.0,321.7 678.5,322.1 677.0,322.9 675.5,323.6 674.0,324.5 672.5,325.6 671.0,326.8 669.5,327.9 668.0,328.7 666.5,329.2 665.0,329.6 663.5,329.8 662.0,329.9 660.5,330.1 659.0,330.1 657.5,330.0 656.0,330.1 654.5,330.6 653.0,331.2 651.5,331.8 650.0,332.6 648.5,333.7 647.0,334.8 645.5,336.0 644.0,337.3 642.5,339.1 641.0,340.9 639.5,341.9 638.0,342.7 636.5,343.3 635.0,343.7 633.5,344.0 632.0,344.3 630.5,345.1 629.0,346.1 627.5,347.1 626.0,348.2 624.5,349.5 623.0,350.6 621.5,351.6 620.0,352.4 618.5,353.0 617.0,353.4 615.5,353.6 614.0,353.7 612.5,353.9 611.0,354.0 609.5,354.1 608.0,354.2 606.5,354.5 605.0,354.8 603.5,355.0 602.0,355.3 600.5,355.7 599.0,356.4 597.5,357.2 596.0,358.0 594.5,358.8 593.0,359.8 591.5,360.6 590.0,361.0 588.5,361.1 587.0,361.1 585.5,361.2 584.0,361.3 582.5,362.0 581.0,363.2 579.5,364.3 578.0,365.5 576.5,366.7 575.0,367.6 573.5,368.4 572.0,369.1 570.5,369.8 569.0,370.5 567.5,371.3 566.0,372.3 564.5,373.4 563.0,374.5 561.5,375.6 560.0,376.5 558.5,377.2 557.0,377.9 555.5,379.2 554.0,380.3 552.5,380.7 551.0,380.8 549.5,381.0 548.0,381.1 546.5,381.2 545.0,381.3 543.5,381.5 542.0,381.7 540.5,382.0 539.0,382.2 537.5,382.5 536.0,382.8 534.5,383.2 533.0,383.7 531.5,384.1 530.0,384.6 528.5,385.0 527.0,385.4 525.5,385.8 524.0,386.2 522.5,386.5 521.0,386.9 519.5,387.3 518.0,387.8 516.5,388.2 515.0,388.6 513.5,389.1 512.0,389.6 510.5,390.1 509.0,390.7 507.5,391.3 506.0,391.9 504.5,392.5 503.0,393.2 501.5,393.9 500.0,394.7 498.5,395.4 497.0,396.2 495.5,397.0 494.0,397.7 492.5,398.4 491.0,399.1 489.5,399.8 488.0,400.6 486.5,401.5 485.0,402.5 483.5,403.7 482.0,404.9 480.5,406.2 479.0,407.5 477.5,408.8 476.0,410.1 474.5,411.4 473.0,412.7 471.5,414.1 470.0,415.6 469.0,416.7 468.0,417.9 467.0,419.2 466.0,420.4 465.0,421.5 464.0,422.4 463.0,423.0 462.0,423.5 461.0,424.0 460.0,424.4 459.0,424.8 458.0,425.2 457.0,425.6 456.0,426.0 455.0,426.4 454.0,426.7 453.0,427.1 452.0,427.5 451.0,427.9 450.0,428.3 449.0,428.6 448.0,428.9 447.0,429.2 446.0,429.5 445.0,429.7 444.0,430.0 443.0,430.2 442.0,430.4 441.0,430.6 440.0,430.9 439.0,431.1 438.0,431.4 437.0,431.7 436.0,432.1 435.0,432.4 434.0,432.8 433.0,433.1 432.0,433.5 431.0,433.9 430.0,434.4 429.0,434.8 428.0,435.3 427.0,435.8 426.0,436.3 425.0,436.8 424.0,437.4 423.0,437.9 422.0,438.5 421.0,439.1 420.0,439.7 419.0,440.3 418.0,440.9 417.0,441.5 416.0,442.1 415.0,442.7 414.0,443.2 413.0,443.7 412.0,444.1 411.0,444.3 410.0,444.4 409.0,444.3 408.0,444.1 407.0,443.6 406.0,442.9 405.0,441.8 404.0,440.4 403.0,438.5 402.0,435.3 401.0,431.7 400.0,428.0 399.0,424.3 398.0,420.5 397.0,416.7 396.0,412.9 395.0,409.1 394.0,405.3 393.0,401.6 392.0,397.8 391.0,394.1 390.0,390.5 389.0,386.9 388.0,383.4 387.0,380.0 386.0,376.6 385.0,373.2 384.0,369.7 383.0,366.3 382.0,362.7 381.0,359.2 380.0,355.6 379.0,351.9 378.0,348.1 377.0,344.0 376.0,340.4 375.0,337.2 374.0,334.4 373.0,331.8 372.0,329.2 371.0,326.6 370.0,324.0 369.0,321.4 368.0,318.8 367.0,316.2 366.0,313.6 365.0,311.0 364.0,308.3 363.0,305.6 362.0,303.1 361.0,300.6 360.0,298.3 359.0,296.2 358.0,294.1 357.0,292.0 356.0,290.0 355.0,287.9 354.0,285.8 353.0,283.8 352.0,281.8 351.0,279.8 350.0,277.8 349.0,276.0 348.0,274.1 347.0,272.3 346.0,270.5 345.0,268.8 344.0,267.1 343.0,265.4 342.0,263.7 341.0,262.1 340.0,260.5 339.0,258.9 338.0,257.4 337.0,256.0 336.0,254.5 335.0,253.1 334.0,251.8 333.0,250.4 332.0,249.1 331.0,247.8 330.0,246.5 329.0,245.2 328.0,244.0 327.0,242.8 326.0,241.6 325.0,240.5 324.0,239.4 323.0,238.3 322.0,237.2 321.0,236.1 320.0,235.1 319.0,234.1 318.0,233.1 317.0,232.1 316.0,231.2 315.0,230.2 314.0,229.3 313.0,228.4 312.0,227.6 311.0,226.7 310.0,225.9 309.0,225.1 308.0,224.4 307.0,223.6 306.0,222.9 305.0,222.1 304.0,221.4 303.0,220.7 302.0,220.0 301.0,219.3 300.0,218.6 299.0,218.0 298.0,217.3 297.0,216.6 296.0,216.0 295.0,215.3 294.0,214.7 293.0,214.0 292.0,213.4" fill="#0000ff" stroke="#0000ff" stroke-width="1.0" stroke-linejoin="round"/>
<polygon id="b5" points="378.0,348.5 379.0,352.5 380.0,356.2 381.0,359.9 382.0,363.5 383.0,367.1 384.0,370.5 385.0,374.0 386.0,377.4 387.0,380.7 388.0,384.2 389.0,387.6 390.0,391.2 391.0,394.9 392.0,398.6 393.0,402.3 394.0,406.1 395.0,410.0 396.0,413.9 397.0,417.8 398.0,421.7 399.0,425.6 400.0,429.6 401.0,433.6 402.0,437.6 403.0,441.6 404.0,445.9 405.0,450.1 406.0,454.1 407.0,458.0 408.0,461.8 409.0,464.9 410.0,466.6 411.0,468.0 412.0,469.1 413.0,469.9 414.0,470.6 415.0,471.0 416.0,471.2 417.0,471.2 418.0,471.0 419.0,470.8 420.0,470.5 421.0,470.0 422.0,469.5 423.0,468.9 424.0,468.3 425.0,467.7 426.0,467.1 427.0,466.5 428.0,465.9 429.0,465.2 430.0,464.6 431.0,464.0 432.0,463.5 433.0,463.0 434.0,462.5 435.0,462.1 436.0,461.7 437.0,461.3 438.0,460.9 439.0,460.6 440.0,460.3 441.0,459.9 442.0,459.6 443.0,459.3 444.0,459.0 445.0,458.7 446.0,458.5 447.0,458.1 448.0,457.8 449.0,457.5 450.0,457.1 451.0,456.8 452.0,456.5 453.0,456.1 454.0,455.8 455.0,455.4 456.0,455.1 457.0,454.8 458.0,454.5 459.0,454.1 460.0,453.8 461.0,453.5 462.0,453.2 463.0,452.9 464.0,452.5 465.0,452.2 466.0,451.8 467.0,451.4 468.0,451.0 469.0,450.7 470.0,450.3 471.5,449.9 473.0,449.5 474.5,449.1 476.0,448.8 477.5,448.4 479.0,448.0 480.5,447.6 482.0,447.2 483.5,446.8 485.0,446.4 486.5,446.0 488.0,445.7 489.5,445.3 491.0,444.9 492.5,444.6 494.0,444.2 495.5,443.9 497.0,443.6 498.5,443.2 500.0,442.9 501.5,442.6 503.0,442.4 504.5,442.2 506.0,442.0 507.5,441.9 509.0,441.8 510.5,441.6 512.0,441.4 513.5,441.3 515.0,441.1 516.5,440.9 518.0,440.7 519.5,440.4 521.0,440.1 522.5,439.4 524.0,438.5 525.5,437.6 527.0,436.6 528.5,435.6 530.0,434.7 531.5,433.8 533.0,432.8 534.5,431.9 536.0,431.0 537.5,430.3 539.0,429.6 540.5,429.0 542.0,428.4 543.5,428.1 545.0,427.9 546.5,427.8 548.0,427.7 549.5,427.7 551.0,427.5 552.5,427.4 554.0,427.3 555.5,427.1 557.0,426.9 558.5,426.5 560.0,425.7 561.5,424.8 563.0,423.9 564.5,423.1 566.0,422.2 567.5,421.2 569.0,420.4 570.5,419.7 572.0,419.0 573.5,418.4 575.0,418.1 576.5,418.1 578.0,418.3 579.5,418.4 581.0,418.5 582.5,418.5 584.0,418.3 585.5,417.8 587.0,417.3 588.5,416.8 590.0,416.2 591.5,415.4 593.0,414.7 594.5,414.1 596.0,413.7 597.5,413.3 599.0,412.9 600.5,412.6 602.0,412.3 603.5,411.9 605.0,411.6 606.5,411.4 608.0,411.3 609.5,411.0 611.0,410.5 612.5,409.9 614.0,409.0 615.5,408.0 617.0,407.0 618.5,406.5 620.0,406.2 621.5,405.9 623.0,405.7 624.5,405.5 626.0,405.3 627.5,404.8 629.0,404.1 630.5,403.5 632.0,403.0 633.5,402.3 635.0,401.7 636.5,401.2 638.0,400.8 639.5,400.2 641.0,399.5 642.5,399.1 644.0,398.9 645.5,398.7 647.0,398.4 648.5,398.1 650.0,397.9 651.5,397.4 653.0,396.5 654.5,395.7 656.0,395.1 657.5,394.3 659.0,393.2 660.5,392.2 662.0,390.9 663.5,389.9 665.0,390.2 666.5,391.2 668.0,392.3 669.5,392.5 671.0,391.8 672.5,390.6 674.0,389.4 675.5,388.1 677.0,386.8 678.5,385.9 680.0,385.4 681.5,385.0 683.0,384.4 684.5,384.1 686.0,384.2 687.5,384.2 689.0,383.9 690.5,383.7 692.0,384.1 693.5,384.5 695.0,383.9 696.5,382.4 698.0,381.0 699.5,379.7 701.0,379.0 702.5,378.6 704.0,378.9 705.5,379.3 707.0,379.3 708.5,378.8 710.0,378.3 711.5,377.7 713.0,376.7 714.5,375.9 716.0,375.9 717.5,376.0 719.0,375.7 720.5,374.9 722.0,374.3 723.5,373.8 725.0,372.9 726.5,371.9 728.0,371.4 729.5,371.0 731.0,370.0 732.5,368.8 734.0,368.4 735.5,368.5 737.0,368.2 738.5,367.7 740.0,367.8 741.5,368.2 743.0,367.5 744.5,365.9 746.0,364.8 747.5,364.8 749.0,364.7 750.5,364.6 752.0,365.2 753.5,366.2 755.0,366.7 756.5,365.8 758.0,364.7 759.5,363.7 761.0,362.5 762.5,361.0 764.0,360.0 765.5,359.8 767.0,359.5 768.5,358.7 770.0,358.0 771.5,358.0 773.0,357.8 774.5,357.0 776.0,356.5 777.5,356.7 779.0,356.5 780.5,355.3 782.0,353.9 783.5,353.1 785.0,352.4 786.5,351.4 788.0,350.9 789.5,351.5 791.0,351.9 792.5,351.2 794.0,350.3 795.5,350.1 797.0,350.0 798.5,349.3 800.0,348.4 801.5,347.9 803.0,347.4 804.5,346.1 806.0,345.1 807.5,344.9 809.0,345.2 810.5,345.0 812.0,344.9 813.5,345.0 815.0,344.8 816.5,343.5 818.0,342.2 819.5,341.8 821.0,342.0 822.5,341.7 824.0,341.2 825.5,341.3 827.0,341.3 828.5,340.0 830.0,338.2 831.5,337.5 833.0,337.6 834.5,337.4 836.0,337.0 837.5,337.3 839.0,338.0 840.5,337.5 842.0,336.2 842.0,339.2 840.5,339.9 839.0,340.0 837.5,339.4 836.0,339.0 834.5,339.5 833.0,339.9 831.5,340.0 830.0,340.5 828.5,342.0 827.0,343.4 825.5,344.0 824.0,344.3 822.5,344.9 821.0,345.3 819.5,345.1 818.0,344.9 816.5,345.4 815.0,346.4 813.5,347.0 812.0,347.3 810.5,347.5 809.0,348.0 807.5,348.0 806.0,348.1 804.5,348.7 803.0,349.9 801.5,350.9 800.0,351.6 798.5,352.5 797.0,353.2 795.5,353.3 794.0,353.1 792.5,353.4 791.0,353.7 789.5,353.6 788.0,353.6 786.5,354.2 785.0,355.4 783.5,356.4 782.0,357.1 780.5,358.1 779.0,359.1 777.5,359.5 776.0,359.5 774.5,359.9 773.0,360.5 771.5,360.7 770.0,360.6 768.5,360.9 767.0,361.6 765.5,362.2 764.0,363.0 762.5,364.2 761.0,365.7 759.5,366.9 758.0,367.6 756.5,368.4 755.0,369.0 753.5,369.0 752.0,368.7 750.5,368.6 749.0,369.1 747.5,369.5 746.0,369.5 744.5,369.7 743.0,370.2 741.5,370.6 740.0,370.7 738.5,371.5 737.0,373.1 735.5,374.5 734.0,375.0 732.5,375.0 731.0,375.1 729.5,375.1 728.0,374.9 726.5,375.0 725.0,376.0 723.5,377.3 722.0,378.3 720.5,379.2 719.0,380.0 717.5,380.3 716.0,380.2 714.5,380.1 713.0,380.4 711.5,380.7 710.0,380.7 708.5,380.8 707.0,381.3 705.5,382.1 704.0,382.6 702.5,383.3 701.0,384.3 699.5,385.5 698.0,386.5 696.5,387.1 695.0,387.8 693.5,388.1 692.0,387.9 690.5,387.7 689.0,387.7 687.5,387.9 686.0,388.0 684.5,388.0 683.0,388.7 681.5,389.9 680.0,391.1 678.5,392.1 677.0,393.2 675.5,394.0 674.0,394.5 672.5,394.7 671.0,395.0 669.5,395.4 668.0,395.7 666.5,395.9 665.0,396.3 663.5,397.0 662.0,397.5 660.5,398.0 659.0,398.6 657.5,399.4 656.0,400.3 654.5,401.0 653.0,401.8 651.5,402.6 650.0,403.3 648.5,403.7 647.0,404.2 645.5,404.8 644.0,405.3 642.5,405.7 641.0,406.2 639.5,406.9 638.0,407.4 636.5,407.8 635.0,408.3 633.5,408.9 632.0,409.5 630.5,410.0 629.0,410.6 627.5,411.2 626.0,411.8 624.5,412.2 623.0,412.6 621.5,413.0 620.0,413.5 618.5,413.9 617.0,414.3 615.5,414.7 614.0,415.1 612.5,415.3 611.0,415.6 609.5,416.0 608.0,416.7 606.5,417.9 605.0,419.2 603.5,419.9 602.0,420.3 600.5,420.5 599.0,420.7 597.5,420.9 596.0,421.2 594.5,421.4 593.0,421.7 591.5,422.0 590.0,422.3 588.5,422.5 587.0,422.6 585.5,422.7 584.0,422.7 582.5,422.8 581.0,423.2 579.5,424.2 578.0,425.5 576.5,426.7 575.0,428.0 573.5,429.4 572.0,430.8 570.5,432.0 569.0,433.1 567.5,434.3 566.0,435.3 564.5,436.0 563.0,436.4 561.5,436.7 560.0,436.9 558.5,437.1 557.0,437.1 555.5,436.9 554.0,436.4 552.5,435.9 551.0,435.5 549.5,435.6 548.0,436.3 546.5,437.4 545.0,438.6 543.5,439.7 542.0,440.6 540.5,441.6 539.0,442.4 537.5,443.1 536.0,443.5 534.5,443.9 533.0,444.1 531.5,444.4 530.0,444.6 528.5,444.8 527.0,445.1 525.5,445.4 524.0,445.9 522.5,446.7 521.0,447.5 519.5,448.4 518.0,449.2 516.5,450.1 515.0,451.0 513.5,451.9 512.0,452.6 510.5,453.2 509.0,453.8 507.5,454.3 506.0,454.8 504.5,455.2 503.0,455.6 501.5,455.9 500.0,456.2 498.5,456.5 497.0,456.8 495.5,457.1 494.0,457.5 492.5,458.1 491.0,458.7 489.5,459.3 488.0,460.0 486.5,460.6 485.0,461.3 483.5,462.0 482.0,462.6 480.5,463.3 479.0,463.8 477.5,464.3 476.0,464.8 474.5,465.2 473.0,465.5 471.5,465.8 470.0,466.1 469.0,466.1 468.0,466.2 467.0,466.3 466.0,466.3 465.0,466.4 464.0,466.5 463.0,466.6 462.0,466.6 461.0,466.7 460.0,466.8 459.0,467.0 458.0,467.1 457.0,467.2 456.0,467.4 455.0,467.6 454.0,467.8 453.0,468.2 452.0,468.6 451.0,469.1 450.0,469.6 449.0,470.2 448.0,470.8 447.0,471.4 446.0,472.1 445.0,472.9 444.0,473.9 443.0,474.9 442.0,476.0 441.0,477.1 440.0,478.3 439.0,479.4 438.0,480.5 437.0,481.6 436.0,482.8 435.0,484.0 434.0,485.2 433.0,486.3 432.0,487.2 431.0,488.1 430.0,488.8 429.0,489.5 428.0,490.0 427.0,490.6 426.0,491.0 425.0,491.3 424.0,491.5 423.0,491.6 422.0,491.7 421.0,491.8 420.0,491.8 419.0,491.7 418.0,491.3 417.0,490.6 416.0,489.0 415.0,487.1 414.0,484.9 413.0,482.3 412.0,479.4 411.0,476.2 410.0,472.8 409.0,469.1 408.0,465.2 407.0,461.1 406.0,456.8 405.0,452.4 404.0,447.9 403.0,443.3 402.0,438.9 401.0,434.7 400.0,430.5 399.0,426.3 398.0,422.2 397.0,418.1 396.0,414.1 395.0,410.1 394.0,406.1 393.0,402.3 392.0,398.6 391.0,394.9 390.0,391.2 389.0,387.6 388.0,384.2 387.0,380.7 386.0,377.4 385.0,374.0 384.0,370.5 383.0,367.1 382.0,363.5 381.0,359.9 380.0,356.2 379.0,352.5 378.0,348.5" fill="#000000" stroke="#000000" stroke-width="1.0" stroke-linejoin="round"/>
<rect x="300" y="200" width="541" height="300" fill="url(#st1)" clip-path="url(#bc)"/>
<rect x="300" y="200" width="541" height="300" fill="url(#st2)" clip-path="url(#bc)"/>
<polyline points="113.8,213.7 114.8,213.4 115.8,213.1 116.8,212.8 117.8,212.6 118.8,212.3 119.8,212.0 120.8,211.8 121.8,211.5 122.8,211.2 123.8,211.0 124.8,210.7 125.8,210.5 126.8,210.2 127.8,210.0 128.8,209.7 129.8,209.5 130.8,209.2 131.8,209.0 132.8,208.7 133.8,208.5 134.8,208.2 135.8,208.0 136.8,207.8 137.8,207.5 138.8,207.3 139.8,207.0 140.8,206.8 141.8,206.6 142.8,206.3 143.8,206.1 144.8,205.9 145.8,205.6 146.8,205.4 147.8,205.2 148.8,205.0 149.8,204.8 150.8,204.5 151.8,204.3 152.8,204.1 153.8,203.9 154.8,203.7 155.8,203.5 156.8,203.3 157.8,203.1 158.8,202.9 159.8,202.7 160.8,202.5 161.8,202.3 162.8,202.2 163.8,202.0 164.8,201.8 165.8,201.6 166.8,201.4 167.8,201.3 168.8,201.1 169.8,200.9 170.8,200.7 171.8,200.6 172.8,200.4 173.8,200.2 174.8,200.1 175.8,199.9 176.8,199.8 177.8,199.6 178.8,199.5 179.8,199.3 180.8,199.2 181.8,199.1 182.8,198.9 183.8,198.8 184.8,198.7 185.8,198.6 186.8,198.5 187.8,198.4 188.8,198.3 189.8,198.2 190.8,198.1 191.8,198.0 192.8,197.9 193.8,197.8 194.8,197.7 195.8,197.6 196.8,197.5 197.8,197.4 198.8,197.3 199.8,197.3 200.8,197.2 201.8,197.1 202.8,197.0 203.8,197.0 204.8,196.9 205.8,196.9 206.8,196.8 207.8,196.8 208.8,196.7 209.8,196.7 210.8,196.7 211.8,196.6 212.8,196.6 213.8,196.6 214.8,196.6 215.8,196.5 216.8,196.5 217.8,196.5 218.8,196.5 219.8,196.5 220.8,196.4 221.8,196.4 222.8,196.4 223.8,196.4 224.8,196.5 225.8,196.5 226.8,196.5 227.8,196.5 228.8,196.5 229.8,196.5 230.8,196.6 231.8,196.6 232.8,196.6 233.8,196.7 234.8,196.7 235.8,196.7 236.8,196.8 237.8,196.9 238.8,196.9 239.8,197.0 240.8,197.1 241.8,197.2 242.8,197.4 243.8,197.5 244.8,197.6 245.8,197.7 246.8,197.9 247.8,198.0 248.8,198.1 249.8,198.3 250.8,198.5 251.8,198.7 252.8,198.9 253.8,199.1 254.8,199.3 255.8,199.5 256.8,199.7 257.8,200.0 258.8,200.2 259.8,200.4 260.8,200.7 261.8,200.9 262.8,201.2 263.8,201.4 264.8,201.7 265.8,202.0 266.8,202.2 267.8,202.5 268.8,202.8 269.8,203.1 270.8,203.4 271.8,203.8 272.8,204.1 273.8,204.4 274.8,204.8 275.8,205.1 276.8,205.5 277.8,205.9 278.8,206.3 279.8,206.7 280.8,207.1 281.8,207.5 282.8,208.0 283.8,208.4 284.8,208.9 285.8,209.4 286.8,209.9 287.8,210.5 288.8,211.0 289.8,211.6 290.8,212.2 291.8,212.8 292.8,213.4 293.8,214.0 294.8,214.7 295.8,215.3 296.8,216.0 297.8,216.6 298.8,217.3 299.8,218.0 300.8,218.7 301.8,219.3 302.8,220.0 303.8,220.7 304.8,221.5 305.8,222.2 306.8,222.9 307.8,223.7 308.8,224.5 309.8,225.2 310.8,226.1 311.8,226.9 312.8,227.7 313.8,228.6 314.8,229.5 315.8,230.4 316.8,231.4 317.8,232.3 318.8,233.3 319.8,234.4 320.8,235.4 321.8,236.4 322.8,237.5 323.8,238.6 324.8,239.7 325.8,240.9 326.8,242.0 327.8,243.2 328.8,244.4 329.8,245.7 330.8,247.0 331.8,248.3 332.8,249.6 333.8,250.9 334.8,252.3 335.8,253.7 336.8,255.1 337.8,256.6 338.8,258.1 339.8,259.6 340.8,261.2 341.8,262.8 342.8,264.5 343.8,266.2 344.8,267.9 345.8,269.6 346.8,271.4 347.8,273.2 348.8,275.0 349.8,276.9 350.8,278.8 351.8,280.8 352.8,282.8 353.8,284.9 354.8,287.0 355.8,289.0 356.8,291.1 357.8,293.1 358.8,295.2 359.8,297.4 360.8,299.6 361.8,302.1 362.8,304.6 363.8,307.3 364.8,310.0 365.8,312.6 366.8,315.2 367.8,317.8 368.8,320.5 369.8,323.1 370.8,325.8 371.8,328.4 372.8,331.0 373.8,333.6 374.8,336.4 375.8,339.5 376.8,343.1 377.8,347.2 378.8,351.2 379.8,355.0" fill="none" stroke="#0000ff" stroke-width="2.3"/>
<polyline points="113.8,213.7 114.8,213.4 115.8,213.1 116.8,212.8 117.8,212.6 118.8,212.3 119.8,212.0 120.8,211.8 121.8,211.5 122.8,211.2 123.8,211.0 124.8,210.7 125.8,210.5 126.8,210.2 127.8,210.0 128.8,209.7 129.8,209.5 130.8,209.2 131.8,209.0 132.8,208.7 133.8,208.5 134.8,208.2 135.8,208.0 136.8,207.8 137.8,207.5 138.8,207.3 139.8,207.0 140.8,206.8 141.8,206.6 142.8,206.3 143.8,206.1 144.8,205.9 145.8,205.6 146.8,205.4 147.8,205.2 148.8,205.0 149.8,204.8 150.8,204.5 151.8,204.3 152.8,204.1 153.8,203.9 154.8,203.7 155.8,203.5 156.8,203.3 157.8,203.1 158.8,202.9 159.8,202.7 160.8,202.5 161.8,202.3 162.8,202.2 163.8,202.0 164.8,201.8 165.8,201.6 166.8,201.4 167.8,201.3 168.8,201.1 169.8,200.9 170.8,200.7 171.8,200.6 172.8,200.4 173.8,200.2 174.8,200.1 175.8,199.9 176.8,199.8 177.8,199.6 178.8,199.5 179.8,199.3 180.8,199.2 181.8,199.1 182.8,198.9 183.8,198.8 184.8,198.7 185.8,198.6 186.8,198.5 187.8,198.4 188.8,198.3 189.8,198.2 190.8,198.1 191.8,198.0 192.8,197.9 193.8,197.8 194.8,197.7 195.8,197.6 196.8,197.5 197.8,197.4 198.8,197.3 199.8,197.3 200.8,197.2 201.8,197.1 202.8,197.0 203.8,197.0 204.8,196.9 205.8,196.9 206.8,196.8 207.8,196.8 208.8,196.7 209.8,196.7 210.8,196.7 211.8,196.6 212.8,196.6 213.8,196.6 214.8,196.6 215.8,196.5 216.8,196.5 217.8,196.5 218.8,196.5 219.8,196.5 220.8,196.4 221.8,196.4 222.8,196.4 223.8,196.4 224.8,196.5 225.8,196.5 226.8,196.5 227.8,196.5 228.8,196.5 229.8,196.5 230.8,196.6 231.8,196.6 232.8,196.6 233.8,196.7 234.8,196.7 235.8,196.7 236.8,196.8 237.8,196.9 238.8,196.9 239.8,197.0 240.8,197.1 241.8,197.2 242.8,197.4 243.8,197.5 244.8,197.6 245.8,197.7 246.8,197.9 247.8,198.0 248.8,198.1 249.8,198.3 250.8,198.5 251.8,198.7 252.8,198.9 253.8,199.1 254.8,199.3 255.8,199.5 256.8,199.7 257.8,200.0 258.8,200.2 259.8,200.4 260.8,200.7 261.8,200.9 262.8,201.2 263.8,201.4 264.8,201.7 265.8,202.0 266.8,202.2 267.8,202.5 268.8,202.8 269.8,203.1 270.8,203.4 271.8,203.8 272.8,204.1 273.8,204.4 274.8,204.8 275.8,205.1 276.8,205.5 277.8,205.9 278.8,206.3 279.8,206.7 280.8,207.1 281.8,207.5 282.8,208.0 283.8,208.4 284.8,208.9 285.8,209.4 286.8,209.9 287.8,210.5 288.8,211.0 289.8,211.6 290.8,212.2 291.8,212.8" fill="none" stroke="#000" stroke-width="1.9" stroke-dasharray="3.5 3.8"/>
<polyline points="292.0,212.9 293.0,213.6 294.0,214.2 295.0,214.8 296.0,215.5 297.0,216.1 298.0,216.8 299.0,217.5 300.0,218.2 301.0,218.8 302.0,219.5 303.0,220.2 304.0,220.9 305.0,221.6 306.0,222.4 307.0,223.1 308.0,223.9 309.0,224.7 310.0,225.5 311.0,226.3 312.0,227.1 313.0,228.0 314.0,228.8 315.0,229.7 316.0,230.7 317.0,231.6 318.0,232.6 319.0,233.6 320.0,234.6 321.0,235.6 322.0,236.7 323.0,237.8 324.0,238.9 325.0,240.0 326.0,241.1 327.0,242.3 328.0,243.5 329.0,244.7 330.0,246.0 331.0,247.3 332.0,248.6 333.0,249.9 334.0,251.3 335.0,252.7 336.0,254.1 337.0,255.5 338.0,256.9 339.0,258.5 340.0,260.0 341.0,261.6 342.0,263.3 343.0,264.9 344.0,266.6 345.0,268.3 346.0,270.1 347.0,271.8 348.0,273.7 349.0,275.5 350.0,277.4 351.0,279.3 352.0,281.3 353.0,283.4 354.0,285.4 355.0,287.5 356.0,289.5" fill="none" stroke="#000" stroke-width="1.9" stroke-dasharray="2.9 3.0"/>
<polyline points="356.0,289.5 357.0,291.6 358.0,293.7 359.0,295.8 360.0,297.9 361.0,300.2 362.0,302.7 363.0,305.3 364.0,308.0 365.0,310.6 366.0,313.3 367.0,315.9 368.0,318.5 369.0,321.1 370.0,323.8 371.0,326.4 372.0,329.0 373.0,331.6 374.0,334.3 375.0,337.2 376.0,340.3 377.0,344.1 378.0,348.2 379.0,352.2" fill="none" stroke="#000" stroke-width="1.9" stroke-dasharray="2.4 2.5"/>
<polyline points="376.7,344.1 377.7,348.2 378.7,352.2 379.7,355.9 380.7,359.6 381.7,363.3 382.7,366.9 383.7,370.4 384.7,373.9 385.7,377.3 386.7,380.8 387.7,384.2 388.7,387.8 389.7,391.4 390.7,395.2 391.7,399.0 392.7,402.9 393.7,406.8 394.7,410.8 395.7,414.9 396.7,419.0 397.7,423.2 398.7,427.4 399.7,431.7 400.7,436.1 401.7,440.6" fill="none" stroke="#0000ff" stroke-width="2.9"/>
<polyline points="377.8,347.9 378.6,350.9 379.3,353.7 380.1,356.5 380.8,359.3 381.6,362.0 382.3,364.7 383.1,367.3 383.8,369.9 384.6,372.5 385.3,375.1 386.1,377.6 386.8,380.1 387.6,382.7 388.3,385.3 389.1,387.9 389.8,390.6 390.6,393.3 391.3,396.1 392.1,398.9 392.8,401.7 393.6,404.6 394.3,407.5 395.1,410.5 395.8,413.5 396.6,416.5 397.3,419.5 398.1,422.6 398.8,425.7 399.6,428.8 400.3,432.0 401.1,435.2 401.8,438.3 402.6,441.5 403.3,445.0 404.1,448.4 404.8,451.8 405.6,455.1 406.3,458.4 407.1,461.5 407.8,464.6 408.6,467.5 409.3,470.4 410.1,473.1 410.8,475.6 411.6,478.1 412.3,480.3 413.1,482.4" fill="none" stroke="#000" stroke-width="2.4" stroke-linecap="round" stroke-linejoin="round"/>
</g>
<path d="M113.75 70.58h8.5M840.00 70.58h-8.5M113.75 122.76h8.5M840.00 122.76h-8.5M113.75 174.94h8.5M840.00 174.94h-8.5M113.75 227.12h8.5M840.00 227.12h-8.5M113.75 279.30h8.5M840.00 279.30h-8.5M113.75 331.48h8.5M840.00 331.48h-8.5M113.75 383.66h8.5M840.00 383.66h-8.5M113.75 435.84h8.5M840.00 435.84h-8.5M113.75 488.02h8.5M840.00 488.02h-8.5M208.79 540.20v-4.2M208.79 18.40v4.2M264.39 540.20v-4.2M264.39 18.40v4.2M303.84 540.20v-4.2M303.84 18.40v4.2M334.43 540.20v-4.2M334.43 18.40v4.2M359.43 540.20v-4.2M359.43 18.40v4.2M380.57 540.20v-4.2M380.57 18.40v4.2M398.88 540.20v-4.2M398.88 18.40v4.2M415.03 540.20v-4.2M415.03 18.40v4.2M429.48 540.20v-8.5M429.48 18.40v8.5M524.52 540.20v-4.2M524.52 18.40v4.2M580.11 540.20v-4.2M580.11 18.40v4.2M619.56 540.20v-4.2M619.56 18.40v4.2M650.16 540.20v-4.2M650.16 18.40v4.2M675.16 540.20v-4.2M675.16 18.40v4.2M696.29 540.20v-4.2M696.29 18.40v4.2M714.60 540.20v-4.2M714.60 18.40v4.2M730.75 540.20v-4.2M730.75 18.40v4.2M745.20 540.20v-8.5M745.20 18.40v8.5" stroke="#000" stroke-width="2" fill="none"/>
<rect x="113.75" y="18.4" width="726.25" height="521.8000000000001" fill="none" stroke="#000" stroke-width="2"/>
<text transform="translate(96.30,31.50) scale(1,1.075)" text-anchor="end" font-size="28">10<tspan font-size="22.4" dy="-12.47">6</tspan></text>
<text transform="translate(96.30,83.68) scale(1,1.075)" text-anchor="end" font-size="28">10<tspan font-size="22.4" dy="-12.47">5</tspan></text>
<text transform="translate(96.30,135.86) scale(1,1.075)" text-anchor="end" font-size="28">10<tspan font-size="22.4" dy="-12.47">4</tspan></text>
<text transform="translate(96.30,188.04) scale(1,1.075)" text-anchor="end" font-size="28">10<tspan font-size="22.4" dy="-12.47">3</tspan></text>
<text transform="translate(96.30,240.22) scale(1,1.075)" text-anchor="end" font-size="28">10<tspan font-size="22.4" dy="-12.47">2</tspan></text>
<text transform="translate(96.30,292.40) scale(1,1.075)" text-anchor="end" font-size="28">10<tspan font-size="22.4" dy="-12.47">1</tspan></text>
<text transform="translate(96.30,344.58) scale(1,1.075)" text-anchor="end" font-size="28">10<tspan font-size="22.4" dy="-12.47">0</tspan></text>
<text transform="translate(96.30,396.76) scale(1,1.075)" text-anchor="end" font-size="28">10<tspan font-size="22.4" dy="-12.47">-1</tspan></text>
<text transform="translate(96.30,448.94) scale(1,1.075)" text-anchor="end" font-size="28">10<tspan font-size="22.4" dy="-12.47">-2</tspan></text>
<text transform="translate(96.30,501.12) scale(1,1.075)" text-anchor="end" font-size="28">10<tspan font-size="22.4" dy="-12.47">-3</tspan></text>
<text transform="translate(96.30,553.30) scale(1,1.075)" text-anchor="end" font-size="28">10<tspan font-size="22.4" dy="-12.47">-4</tspan></text>
<text transform="translate(118.15,578.60) scale(1,1.075)" text-anchor="middle" font-size="28">10</text>
<text transform="translate(433.88,578.60) scale(1,1.075)" text-anchor="middle" font-size="28">100</text>
<text transform="translate(749.60,578.60) scale(1,1.075)" text-anchor="middle" font-size="28">1000</text>
<text transform="translate(476.90,621.60) scale(1,1.075)" text-anchor="middle" font-size="28">l</text>
<text transform="translate(22.00,278.90) rotate(-90) scale(1,1.075)" text-anchor="middle" font-size="28">l(l+1)C<tspan font-size="22.4" dy="7.81">l</tspan><tspan dy="-7.81">/2π</tspan></text>
<text transform="translate(169.40,81.60) scale(1,1.075)" text-anchor="start" font-size="28" letter-spacing="0.13">(c) 10<tspan font-size="22.4" dy="-12.28">7</tspan><tspan dy="12.28"> events</tspan></text>
<text transform="translate(714.00,50.30) scale(1,1.075)" text-anchor="end" font-size="28">s = 0.5</text>
<rect x="730.0" y="33.00" width="76.6" height="14.7" fill="#ff0000"/>
<text transform="translate(714.00,78.20) scale(1,1.075)" text-anchor="end" font-size="28">s = 2.5</text>
<rect x="730.0" y="61.20" width="76.6" height="14.7" fill="#0000ff" stroke="#0000ff" stroke-width="1" stroke-dasharray="3 2"/>
<text transform="translate(714.00,106.10) scale(1,1.075)" text-anchor="end" font-size="28">isotropic</text>
<rect x="730.0" y="89.40" width="76.6" height="14.7" fill="#000000" stroke="#000000" stroke-width="1" stroke-dasharray="2 3"/>
</svg>
</body></html>
